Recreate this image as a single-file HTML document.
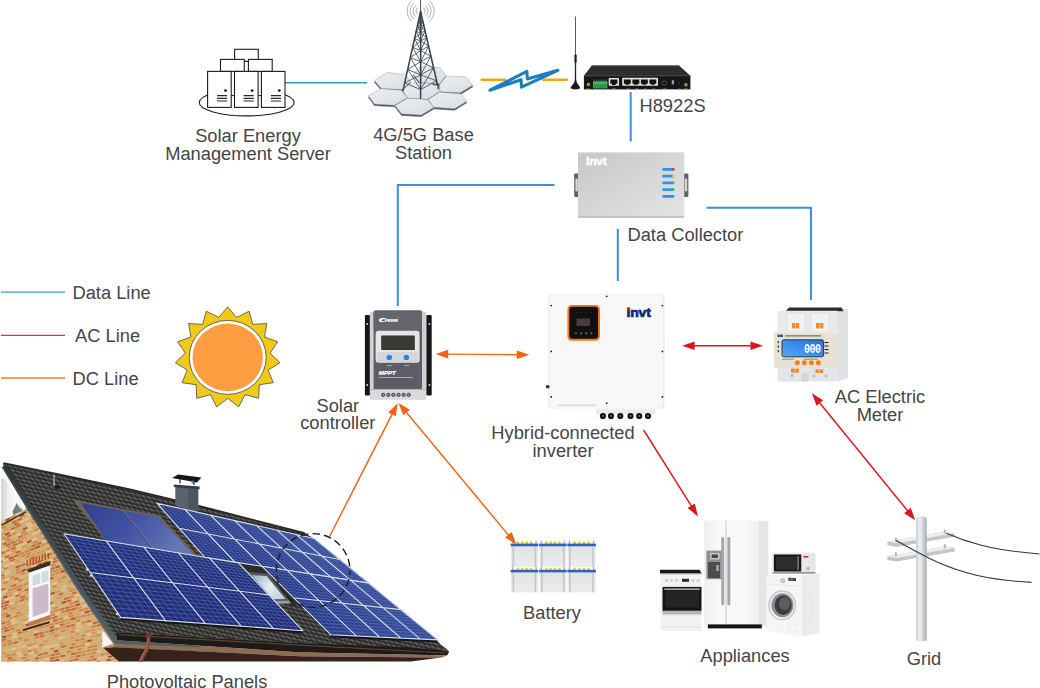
<!DOCTYPE html>
<html>
<head>
<meta charset="utf-8">
<title>Solar Energy Management</title>
<style>
html,body{margin:0;padding:0;background:#fff;}
body{width:1040px;height:688px;overflow:hidden;position:relative;font-family:"Liberation Sans",sans-serif;}
svg{position:absolute;left:0;top:0;display:block;}
text{font-family:"Liberation Sans",sans-serif;font-size:17.6px;fill:#454545;}
.c{text-anchor:middle;}
.dl{stroke:#3b8fdc;stroke-width:2;fill:none;}
.ac{stroke:#dc1c24;stroke-width:1.8;fill:none;}
.dc{stroke:#f47a1c;stroke-width:1.8;fill:none;}
</style>
</head>
<body>
<svg width="1040" height="688" viewBox="0 0 1040 688">
<defs>
  <linearGradient id="poleG" x1="0" x2="1" y1="0" y2="0">
    <stop offset="0" stop-color="#c9ced2"/><stop offset="0.35" stop-color="#eef1f3"/><stop offset="1" stop-color="#a9afb4"/>
  </linearGradient>
  <linearGradient id="dcG" x1="0" x2="1" y1="0" y2="1">
    <stop offset="0" stop-color="#c6c6c6"/><stop offset="0.5" stop-color="#d6d6d6"/><stop offset="1" stop-color="#e4e4e4"/>
  </linearGradient>
  <linearGradient id="invG" x1="0" x2="1" y1="0" y2="0">
    <stop offset="0" stop-color="#e9e9e9"/><stop offset="0.04" stop-color="#f6f6f6"/><stop offset="0.96" stop-color="#f6f6f6"/><stop offset="1" stop-color="#e6e6e6"/>
  </linearGradient>
  <linearGradient id="batG" x1="0" x2="0" y1="0" y2="1">
    <stop offset="0" stop-color="#e2e3e6"/><stop offset="1" stop-color="#ececee"/>
  </linearGradient>
  <linearGradient id="frG" x1="0" x2="1" y1="0" y2="0">
    <stop offset="0" stop-color="#ededee"/><stop offset="0.25" stop-color="#f8f8f8"/><stop offset="0.75" stop-color="#f8f8f8"/><stop offset="1" stop-color="#efeff0"/>
  </linearGradient>
<!--HDEFS_START-->
  <linearGradient id="bargeG" gradientUnits="userSpaceOnUse" x1="1" y1="0" x2="14" y2="0">
    <stop offset="0" stop-color="#cfcfcf"/><stop offset="0.5" stop-color="#ececec"/><stop offset="1" stop-color="#f8f8f8"/>
  </linearGradient>
  <linearGradient id="stripG" gradientUnits="userSpaceOnUse" x1="0" y1="465" x2="0" y2="645">
    <stop offset="0" stop-color="#2c3338"/><stop offset="0.35" stop-color="#3c464d"/><stop offset="1" stop-color="#54616a"/>
  </linearGradient>
  <linearGradient id="wallSh" x1="0" x2="1" y1="0" y2="0">
    <stop offset="0" stop-color="#8a5a30" stop-opacity="0.12"/><stop offset="0.5" stop-color="#fff" stop-opacity="0.04"/><stop offset="1" stop-color="#fff" stop-opacity="0.08"/>
  </linearGradient>
  <pattern id="tiles" width="5.7" height="5.3" patternUnits="userSpaceOnUse" patternTransform="matrix(0.975,0.222,0.53,0.85,0,2)">
    <rect width="5.7" height="5.3" fill="#292928"/>
    <ellipse cx="2.7" cy="2.4" rx="2.5" ry="2" fill="#4c4c4b"/>
    <ellipse cx="2.3" cy="1.9" rx="1.7" ry="1.1" fill="#5e5e5d"/>
  </pattern>
  <linearGradient id="thermG" gradientUnits="userSpaceOnUse" x1="90" y1="500" x2="170" y2="556">
    <stop offset="0" stop-color="#31418f"/><stop offset="0.5" stop-color="#4253a3"/><stop offset="1" stop-color="#6575b6"/>
  </linearGradient>
  <linearGradient id="skyG" gradientUnits="userSpaceOnUse" x1="255" y1="575" x2="282" y2="600">
    <stop offset="0" stop-color="#9fb6c6"/><stop offset="0.5" stop-color="#e4eef2"/><stop offset="1" stop-color="#b9cedb"/>
  </linearGradient>
  <linearGradient id="pvGA" gradientUnits="userSpaceOnUse" x1="64" y1="534" x2="300" y2="630">
    <stop offset="0" stop-color="#232f78"/><stop offset="1" stop-color="#212c72"/>
  </linearGradient>
  <linearGradient id="pvGB" gradientUnits="userSpaceOnUse" x1="155" y1="503" x2="437" y2="641">
    <stop offset="0" stop-color="#232f78"/><stop offset="0.6" stop-color="#283882"/><stop offset="1" stop-color="#30448e"/>
  </linearGradient>
<!--HDEFS_END-->
  <linearGradient id="hexG" x1="0" x2="1" y1="0" y2="1">
    <stop offset="0" stop-color="#eceef2"/><stop offset="1" stop-color="#d9dde3"/>
  </linearGradient>
  <linearGradient id="lcdG" x1="0" x2="1" y1="1" y2="0">
    <stop offset="0" stop-color="#58aaf8"/><stop offset="0.5" stop-color="#3a8cf0"/><stop offset="1" stop-color="#2372e2"/>
  </linearGradient>
</defs>

<!-- ================= CONNECTION LINES ================= -->
<g id="lines">
  <!-- data lines -->
  <line x1="285" y1="82.8" x2="367" y2="82.8" stroke="#2f9fc4" stroke-width="1.6"/>
  <line class="dl" x1="630.7" y1="92" x2="630.7" y2="141.5"/>
  <polyline class="dl" points="554.5,185 397.8,185 397.8,306"/>
  <polyline class="dl" points="706.5,207.8 811,207.8 811,300"/>
  <line class="dl" x1="617.8" y1="229" x2="617.8" y2="281"/>
  <!-- legend -->
  <line x1="1" y1="292.1" x2="65" y2="292.1" stroke="#36a0be" stroke-width="1.4"/>
  <line x1="1" y1="335.4" x2="65" y2="335.4" stroke="#e2343c" stroke-width="1.4"/>
  <line x1="1" y1="378" x2="65" y2="378" stroke="#ff9a4a" stroke-width="1.8"/>
</g>


<!-- ================= SERVER ICON ================= -->
<g id="server" fill="#fff" stroke="#1c1c1c" stroke-width="1.1">
  <ellipse cx="246.7" cy="102.6" rx="47.5" ry="13.3"/>
  <rect x="234.6" y="49.3" width="23.7" height="12"/>
  <rect x="220.5" y="59.4" width="23.8" height="12"/>
  <rect x="248.4" y="59.4" width="23.8" height="12"/>
  <rect x="229" y="75" width="35" height="20" stroke="none"/>
  <path d="M231 95.6h4M258 95.6h4" stroke-width="1"/>
  <rect x="207.6" y="71.4" width="23.6" height="36"/>
  <rect x="234.5" y="71.4" width="23.6" height="36"/>
  <rect x="261.4" y="71.4" width="23.6" height="36"/>
  <g stroke="none" fill="#1c1c1c">
    <circle cx="225.5" cy="90.6" r="1.4"/><circle cx="252.1" cy="90.6" r="1.4"/><circle cx="279.3" cy="90.6" r="1.4"/>
  </g>
  <g stroke="#2a2a2a" stroke-width="1.2">
    <path d="M217 95.6h10.2M217 98.3h10.2M217 101h10.2"/>
    <path d="M243.6 95.6h10.2M243.6 98.3h10.2M243.6 101h10.2"/>
    <path d="M270.8 95.6h10.2M270.8 98.3h10.2M270.8 101h10.2"/>
  </g>
</g>

<!-- ================= BASE STATION ================= -->
<g id="tower">
  <polygon points="413,75.8 420,68.1 440.2,69.3 446,77.39999999999999 439.6,85.39999999999999 420,84.1" fill="#50575f" stroke="#50575f" stroke-width="0.5"/>
  <polygon points="413,74.2 420,66.5 440.2,67.7 446,75.8 439.6,83.8 420,82.5" fill="url(#hexG)" stroke="#9aa0a8" stroke-width="0.45"/>
  <polygon points="374.4,82.19999999999999 387.1,74.1 405.6,76.0 410.8,83.1 402.1,91.19999999999999 381.3,90.1" fill="#50575f" stroke="#50575f" stroke-width="0.5"/>
  <polygon points="374.4,80.6 387.1,72.5 405.6,74.4 410.8,81.5 402.1,89.6 381.3,88.5" fill="url(#hexG)" stroke="#9aa0a8" stroke-width="0.45"/>
  <polygon points="439.6,86.0 446.5,77.6 466.2,78.5 472.8,86.8 460.4,94.39999999999999 440.2,93.3" fill="#50575f" stroke="#50575f" stroke-width="0.5"/>
  <polygon points="439.6,84.4 446.5,76 466.2,76.9 472.8,85.2 460.4,92.8 440.2,91.7" fill="url(#hexG)" stroke="#9aa0a8" stroke-width="0.45"/>
  <polygon points="402.7,91.8 410.8,84.3 431.5,84.89999999999999 439.6,93.3 427.5,100.8 407.3,99.5" fill="#50575f" stroke="#50575f" stroke-width="0.5"/>
  <polygon points="402.7,90.2 410.8,82.7 431.5,83.3 439.6,91.7 427.5,99.2 407.3,97.9" fill="url(#hexG)" stroke="#9aa0a8" stroke-width="0.45"/>
  <polygon points="368.3,97.19999999999999 381.3,90.3 401.5,91.8 407.3,99.3 394.6,106.8 374.4,105.6" fill="#50575f" stroke="#50575f" stroke-width="0.5"/>
  <polygon points="368.3,95.6 381.3,88.7 401.5,90.2 407.3,97.7 394.6,105.2 374.4,104" fill="url(#hexG)" stroke="#9aa0a8" stroke-width="0.45"/>
  <polygon points="428.1,101.0 439.6,93.8 460.4,95.3 466.7,102.8 454.6,110.3 433.8,108.8" fill="#50575f" stroke="#50575f" stroke-width="0.5"/>
  <polygon points="428.1,99.4 439.6,92.2 460.4,93.7 466.7,101.2 454.6,108.7 433.8,107.2" fill="url(#hexG)" stroke="#9aa0a8" stroke-width="0.45"/>
  <polygon points="395.2,107.1 407.3,99.89999999999999 427.5,101.0 433.8,109.1 421.2,116.6 401.5,115.39999999999999" fill="#50575f" stroke="#50575f" stroke-width="0.5"/>
  <polygon points="395.2,105.5 407.3,98.3 427.5,99.4 433.8,107.5 421.2,115 401.5,113.8" fill="url(#hexG)" stroke="#9aa0a8" stroke-width="0.45"/>
  <g stroke="#38424a" stroke-width="1.15" fill="none" stroke-linecap="round" stroke-linejoin="round">
    <path d="M420.6 0V11.5" stroke-width="0.9"/>
    <path d="M420.6 11.5L402.9 90.8" stroke-width="1.5"/>
    <path d="M420.6 11.5L438.4 88.5" stroke-width="1.5"/>
    <path d="M420.6 11.5L420.6 98.3" stroke-width="1.5"/>
    <path d="M420.6 11.5L420.8 83" stroke-width="0.8"/>
    <path d="M418.8 19.4L420.6 20.2L422.4 19.2M417.6 25.0L420.6 26.3L423.6 24.6M418.8 19.4L420.6 26.3M420.6 20.2L417.6 25.0M422.4 19.2L420.6 26.3M420.6 20.2L423.6 24.6M416.2 31.3L420.6 33.2L425.1 30.8M417.6 25.0L420.6 33.2M420.6 26.3L416.2 31.3M423.6 24.6L420.6 33.2M420.6 26.3L425.1 30.8M414.6 38.5L420.6 41.0L426.7 37.7M416.2 31.3L420.6 41.0M420.6 33.2L414.6 38.5M425.1 30.8L420.6 41.0M420.6 33.2L426.7 37.7M412.6 47.2L420.6 50.6L428.6 46.1M414.6 38.5L420.6 50.6M420.6 41.0L412.6 47.2M426.7 37.7L420.6 50.6M420.6 41.0L428.6 46.1M410.3 57.5L420.6 61.8L430.9 56.2M412.6 47.2L420.6 61.8M420.6 50.6L410.3 57.5M428.6 46.1L420.6 61.8M420.6 50.6L430.9 56.2M407.7 69.4L420.6 74.9L433.6 67.7M410.3 57.5L420.6 74.9M420.6 61.8L407.7 69.4M430.9 56.2L420.6 74.9M420.6 61.8L433.6 67.7M404.7 82.9L420.6 89.6L436.6 80.8M407.7 69.4L420.6 89.6M420.6 74.9L404.7 82.9M433.6 67.7L420.6 89.6M420.6 74.9L436.6 80.8" stroke-width="0.8"/>
  </g>
  <g stroke="#8c9094" stroke-width="0.7" fill="none">
    <path d="M417.7 7.6A4.5 4.5 0 0 0 417.7 14.4M423.5 7.6A4.5 4.5 0 0 1 423.5 14.4"/>
    <path d="M415.8 5.3A7.5 7.5 0 0 0 415.8 16.7M425.4 5.3A7.5 7.5 0 0 1 425.4 16.7"/>
    <path d="M413.9 3.0A10.5 10.5 0 0 0 413.9 19.0M427.3 3.0A10.5 10.5 0 0 1 427.3 19.0"/>
    <path d="M411.9 0.7A13.5 13.5 0 0 0 411.9 21.3M429.3 0.7A13.5 13.5 0 0 1 429.3 21.3"/>
  </g>
</g>
<!-- ================= WIRELESS LINK ================= -->
<g id="link">
  <path d="M481.8 79.8H505M543.3 79.8H566.8" stroke="#f6a313" stroke-width="2.6" stroke-linecap="round"/>
  <polygon points="490,90.2 526.9,71.4 527.3,78.9 557.8,70.3 521.5,87.2 521.1,79.7" fill="#fff" stroke="#1b7fbd" stroke-width="3.1" stroke-linejoin="round"/>
</g>

<!-- ================= ROUTER H8922S ================= -->
<g id="router">
  <!-- antenna -->
  <path d="M575.5 16.5V56" stroke="#333" stroke-width="0.8"/>
  <rect x="574.4" y="54.5" width="2.3" height="8.5" rx="1" fill="#222"/>
  <path d="M575.5 62V83" stroke="#222" stroke-width="1.3"/>
  <path d="M575.5 77.5 L574.2 82.5 L570.6 87.6 Q570.2 89.3 575.4 89.4 Q580.6 89.3 580.2 87.6 L576.8 82.5 Z" fill="#1a1a1a"/>
  <!-- body -->
  <polygon points="591.8,65.5 679,65.5 690.4,75.8 583.9,75.8" fill="#2e2e2e"/>
  <polygon points="591.8,65.5 679,65.5 680,66.4 590.8,66.4" fill="#4a4a4a"/>
  <rect x="583.9" y="75.6" width="106.5" height="13.8" fill="#161616"/>
  <rect x="583.9" y="75.6" width="106.5" height="0.8" fill="#3c3c3c"/>
  <!-- SMA -->
  <circle cx="588.4" cy="84.4" r="1.7" fill="#c9a24a"/><circle cx="588.4" cy="84.4" r="0.7" fill="#6a5320"/>
  <circle cx="685.9" cy="84.7" r="1.7" fill="#c9a24a"/><circle cx="685.9" cy="84.7" r="0.7" fill="#6a5320"/>
  <!-- green terminal -->
  <path d="M594 80.2h13" stroke="#9a9a9a" stroke-width="0.8" stroke-dasharray="1 0.9"/>
  <rect x="593" y="81.6" width="14.4" height="6.8" fill="#2fa94b"/>
  <rect x="593" y="81.6" width="14.4" height="1.6" fill="#4fc46a"/>
  <path d="M595.4 85v3.2M597.8 85v3.2M600.2 85v3.2M602.6 85v3.2M605 85v3.2" stroke="#1d7a33" stroke-width="0.9"/>
  <!-- single port -->
  <rect x="608.7" y="78" width="10.3" height="7.8" rx="0.8" fill="#e2e2dc"/>
  <path d="M610.3 79.6h7.1v4.2h-1.7v1.1h-3.7v-1.1h-1.7z" fill="#111"/>
  <!-- 4 ports -->
  <rect x="622.2" y="77.7" width="35.8" height="8.1" rx="0.8" fill="#e2e2dc"/>
  <g fill="#111">
    <path d="M623.9 79.4h6.9v4.3h-1.6v1.1h-3.7v-1.1h-1.6z"/>
    <path d="M632.4 79.4h6.9v4.3h-1.6v1.1h-3.7v-1.1h-1.6z"/>
    <path d="M640.9 79.4h6.9v4.3h-1.6v1.1h-3.7v-1.1h-1.6z"/>
    <path d="M649.4 79.4h6.9v4.3h-1.6v1.1h-3.7v-1.1h-1.6z"/>
  </g>
  <!-- power jack & misc -->
  <circle cx="664.4" cy="83" r="2.7" fill="#3a3a3a"/><circle cx="664.4" cy="83" r="1.3" fill="#0c0c0c"/>
  <rect x="671.8" y="80" width="2.2" height="4.6" rx="0.8" fill="#9c9c9c"/>
  <circle cx="679.5" cy="83" r="0.5" fill="#666"/>
  <path d="M586.8 88.6h3M612 88.6h3.5M627 88.6h2.5M635.5 88.6h2.5M644 88.6h2.5M652.5 88.6h2.5M663 88.6h3M678.5 88.6h2M684.5 88.6h3" stroke="#8a8a8a" stroke-width="0.6"/>
</g>

<!-- ================= SUN ================= -->
<g id="sun" transform="translate(227.7,357.4) scale(1.005,0.965)">
  <polygon points="0.0,-52.4 8.8,-41.4 21.3,-47.9 24.9,-34.2 38.9,-35.1 36.6,-21.1 49.8,-16.2 42.1,-4.4 52.1,5.5 40.2,13.1 45.4,26.2 31.4,28.3 30.8,42.4 17.2,38.6 10.9,51.3 0.0,42.3 -10.9,51.3 -17.2,38.6 -30.8,42.4 -31.4,28.3 -45.4,26.2 -40.2,13.1 -52.1,5.5 -42.1,-4.4 -49.8,-16.2 -36.6,-21.2 -38.9,-35.1 -24.9,-34.2 -21.3,-47.9 -8.8,-41.4" fill="#f1c917" stroke="#5a5a50" stroke-width="0.9" stroke-linejoin="miter"/>
  <circle cx="0" cy="0" r="38.3" fill="#fff" stroke="#55554c" stroke-width="0.9"/>
  <circle cx="0" cy="0" r="35" fill="#ff9d42"/>
</g>

<!-- ================= DATA COLLECTOR ================= -->
<g id="collector">
  <rect x="574.2" y="173.4" width="4.6" height="23.6" rx="1.2" fill="#5c6464"/>
  <rect x="683.6" y="173.4" width="4.8" height="23.6" rx="1.2" fill="#5c6464"/>
  <rect x="575.4" y="178.5" width="2.4" height="13" rx="1.2" fill="#d8d8d8"/>
  <rect x="684.8" y="178.5" width="2.4" height="13" rx="1.2" fill="#d8d8d8"/>
  <rect x="578" y="151.9" width="106.3" height="65.9" rx="1.6" fill="url(#dcG)"/>
  <rect x="578" y="151.9" width="106.3" height="1.2" fill="#e6e6e6" opacity="0.8"/>
  <rect x="578" y="216.2" width="106.3" height="1.6" fill="#b4b4b4" opacity="0.8"/>
  <text transform="translate(586,165.2) scale(1.05,1)" style="font-size:11.5px;font-weight:bold;fill:#fff;stroke:#fff;stroke-width:0.5px;letter-spacing:-0.2px">invt</text>
  <g>
    <rect x="662.3" y="167.9" width="12" height="2.8" rx="1.2" fill="#2c93f2"/><rect x="672.3" y="168.2" width="2" height="2.2" fill="#f02a2a"/>
    <rect x="662.3" y="174.8" width="12" height="2.8" rx="1.2" fill="#2c93f2"/><rect x="672.3" y="175.1" width="2" height="2.2" fill="#f2e020"/>
    <rect x="662.3" y="181.5" width="12" height="2.8" rx="1.2" fill="#2c93f2"/><rect x="672.3" y="181.8" width="2" height="2.2" fill="#30c838"/>
    <rect x="662.3" y="188.2" width="12" height="2.8" rx="1.2" fill="#2c93f2"/><rect x="672.3" y="188.5" width="2" height="2.2" fill="#30c838"/>
    <rect x="662.3" y="194.9" width="12" height="2.8" rx="1.2" fill="#2c93f2"/>
  </g>
</g>

<!-- ================= SOLAR CONTROLLER ================= -->
<g id="controller">
  <rect x="364.9" y="315" width="5.4" height="80.4" rx="1.2" fill="#161616"/>
  <rect x="426.3" y="315" width="5.4" height="80.4" rx="1.2" fill="#161616"/>
  <circle cx="367.2" cy="324" r="0.9" fill="#ddd"/><circle cx="367.2" cy="385" r="0.9" fill="#ddd"/>
  <circle cx="429.4" cy="324" r="0.9" fill="#ddd"/><circle cx="429.4" cy="385" r="0.9" fill="#ddd"/>
  <rect x="369.8" y="311.5" width="56.4" height="88" rx="1.5" fill="#cfd0d2"/>
  <rect x="373.6" y="310.4" width="48.4" height="79" rx="2" fill="#5d5d66"/>
  <rect x="373.6" y="310.4" width="48.4" height="20" rx="2" fill="#64646c"/>
  <ellipse cx="382.6" cy="320" rx="3.9" ry="2.1" fill="#f4f4f4" transform="rotate(-8 382.6 320)"/>
  <ellipse cx="383.8" cy="320.2" rx="2.5" ry="0.9" fill="#62626a" transform="rotate(-8 383.8 320.2)"/>
  <text transform="translate(385.6,321.5) scale(0.9,1)" style="font-size:4px;font-weight:bold;font-style:italic;fill:#fff;stroke:#fff;stroke-width:0.2px">PEVER</text>
  <rect x="397.6" y="317" width="0.8" height="0.8" fill="#ddd"/>
  <rect x="375.6" y="330.7" width="44" height="32" rx="3" fill="#e4e6ea"/>
  <rect x="376.6" y="352" width="42" height="10" rx="3" fill="#d2d5da"/>
  <rect x="381.2" y="335.4" width="33.6" height="14.6" rx="0.8" fill="#2e302c"/>
  <rect x="382" y="336.2" width="32" height="13" fill="#383a34"/>
  <circle cx="389.3" cy="357.4" r="2.7" fill="#1f86ea"/>
  <circle cx="406.4" cy="357.4" r="2.7" fill="#1f86ea"/>
  <path d="M387 365.6h5M404 365.6h5" stroke="#c8c8cc" stroke-width="0.7"/>
  <text transform="translate(378.8,375.4) scale(1.1,1)" style="font-size:5.6px;font-weight:bold;font-style:italic;fill:#fff;stroke:#fff;stroke-width:0.2px">MPPT</text>
  <path d="M378.8 377.5h34" stroke="#c0c0c6" stroke-width="0.8"/>
  <rect x="370.3" y="389" width="55.4" height="10.5" fill="#d9dadc"/>
  <rect x="370.3" y="389" width="55.4" height="1.2" fill="#b8b9bc"/>
  <g fill="#8c8c8c" stroke="#444" stroke-width="1">
    <circle cx="383.2" cy="394.8" r="1.65"/><circle cx="388.3" cy="394.8" r="1.65"/><circle cx="393.4" cy="394.8" r="1.65"/><circle cx="398.5" cy="394.8" r="1.65"/><circle cx="403.6" cy="394.8" r="1.65"/><circle cx="408.7" cy="394.8" r="1.65"/>
  </g>
</g>

<!--HOUSE_START-->
<!-- ================= HOUSE / PV ROOF ================= -->
<g id="house">
  <clipPath id="wallClip"><polygon points="1.3,521.0 25.0,509.5 27.1,502.6 59.0,553.5 81.6,590.0 117.6,643.4 119.0,661.5 1.3,661.5"/></clipPath>
  <polygon points="1.3,521.0 25.0,509.5 27.1,502.6 59.0,553.5 81.6,590.0 117.6,643.4 119.0,661.5 1.3,661.5" fill="#d3b283"/>
  <g clip-path="url(#wallClip)" stroke-width="1.95" fill="none">
    <path d="M0.5 497.7L2.7 496.6M8.9 493.3L13.2 491.0M61.9 465.2L66.4 462.8M99.0 445.5L103.5 443.1M6.1 497.6L10.7 495.2M27.3 486.4L31.7 484.2M75.0 461.4L79.4 459.1M90.9 453.1L95.4 450.7M0.5 503.3L4.0 501.5M5.0 501.0L9.3 498.8M10.3 498.3L14.6 496.0M15.6 495.5L20.3 493.0M20.9 492.8L25.6 490.3M31.5 487.3L36.1 484.9M42.1 481.7L46.6 479.4M52.7 476.2L57.1 473.9M63.3 470.7L67.8 468.4M111.0 446.0L115.5 443.6M37.4 487.2L41.9 484.9M48.0 481.7L52.5 479.4M53.3 479.0L57.9 476.6M74.5 468.1L78.9 465.9M85.1 462.7L89.7 460.3M106.3 451.8L110.9 449.4M19.0 499.5L23.6 497.2M34.9 491.5L39.2 489.3M45.5 486.1L49.8 483.9M82.6 467.2L87.3 464.8M109.1 453.7L113.6 451.4M114.4 451.0L119.2 448.6M3.5 510.2L8.0 508.0M56.5 483.5L61.1 481.2M67.1 478.2L71.7 475.9M72.4 475.5L77.1 473.2M98.9 462.2L103.4 460.0M36.9 496.4L41.7 494.0M63.4 483.2L67.9 481.0M100.5 464.7L104.8 462.6M19.7 507.9L24.4 505.6M62.1 487.0L66.9 484.7M93.9 471.3L98.6 469.0M99.2 468.7L103.8 466.5M4.1 518.4L8.7 516.2M83.6 479.6L88.3 477.4M88.9 477.0L93.7 474.7M110.1 466.7L114.6 464.6M10.9 517.9L15.5 515.7M53.3 497.5L57.8 495.3M69.2 489.8L74.0 487.5M101.0 474.5L105.5 472.3M116.9 466.8L121.6 464.6M3.9 524.2L8.4 522.0M30.4 511.5L34.8 509.4M51.6 501.4L55.9 499.3M56.9 498.9L61.6 496.7M62.2 496.4L66.8 494.2M72.8 491.3L77.4 489.1M115.2 471.1L119.9 468.8M1.4 528.1L5.9 526.0M91.5 485.6L96.1 483.5M96.8 483.2L101.3 481.1M35.4 515.1L39.8 513.0M61.9 502.8L66.6 500.5M72.5 497.8L76.9 495.7M104.3 483.0L108.7 481.0M109.6 480.5L114.4 478.3M120.2 475.6L125.0 473.4M37.5 517.1L42.1 515.0M53.4 509.8L58.2 507.6M58.7 507.3L63.5 505.2M90.5 492.7L95.2 490.5M106.4 485.4L111.1 483.2M31.6 522.8L36.4 520.6M52.8 513.1L57.4 511.1M63.4 508.3L68.0 506.3M84.6 498.7L89.1 496.6M95.2 493.8L99.7 491.8M100.5 491.4L105.3 489.2M105.8 489.0L110.4 486.9M111.1 486.6L115.9 484.4M1.7 539.2L6.1 537.3M86.5 501.1L91.2 499.0M97.1 496.3L101.9 494.2M102.4 493.9L107.2 491.8M5.7 540.3L10.1 538.3M21.6 533.2L26.1 531.2M37.5 526.1L41.9 524.2M53.4 519.1L58.0 517.0M79.9 507.3L84.3 505.3M111.7 493.2L116.2 491.1M7.7 542.2L12.2 540.2M23.6 535.2L28.3 533.2M34.2 530.6L38.7 528.6M55.4 521.3L59.8 519.3M66.0 516.6L70.4 514.7M97.8 502.6L102.5 500.6M0.5 548.2L-0.1 548.5M16.3 541.3L20.6 539.4M53.4 525.2L58.1 523.2M69.3 518.3L73.9 516.3M74.6 516.0L79.0 514.1M79.9 513.7L84.5 511.7M85.2 511.4L89.8 509.4M117.0 497.6L121.4 495.7M7.8 547.9L12.4 545.9M39.6 534.2L44.3 532.2M71.4 520.6L75.8 518.7M92.6 511.5L97.1 509.6M5.9 551.5L10.4 549.6M90.7 515.6L95.0 513.8M101.3 511.1L105.7 509.3M32.9 543.1L37.3 541.2M48.8 536.4L53.5 534.4M111.0 513.8L115.6 511.9M121.6 509.4L126.0 507.6M0.5 562.2L-2.8 563.5M19.3 554.5L23.9 552.7M24.6 552.4L29.3 550.5M40.5 545.9L44.9 544.1M45.8 543.7L50.5 541.8M51.1 541.6L55.7 539.7M77.6 530.8L82.2 528.9M93.5 524.3L98.1 522.5M20.9 556.8L25.3 555.0M26.2 554.7L30.8 552.8M79.2 533.4L84.0 531.5M100.4 524.8L104.8 523.1M105.7 522.7L110.2 520.9M111.0 520.6L115.6 518.8M121.6 516.3L126.4 514.4M25.5 557.9L30.3 556.0M46.7 549.5L51.4 547.6M62.6 543.2L67.4 541.3M67.9 541.1L72.6 539.2M99.7 528.5L104.3 526.7M3.8 569.3L8.3 567.6M40.9 554.8L45.7 552.9M62.1 546.5L66.9 544.6M0.5 573.4L-1.1 574.0M42.1 557.4L46.7 555.6M52.7 553.3L57.5 551.4M89.8 539.0L94.3 537.2M111.0 530.8L115.7 529.0M15.6 570.5L20.1 568.8M68.6 550.3L73.1 548.6M79.2 546.3L83.9 544.5M95.1 540.2L99.7 538.5M0.5 579.0L4.7 577.4M16.3 573.1L21.0 571.3M26.9 569.1L31.3 567.5M74.6 551.2L79.1 549.5M10.2 578.2L14.9 576.5M20.8 574.3L25.1 572.7M31.4 570.4L35.8 568.8M36.7 568.4L41.2 566.8M57.9 560.6L62.6 558.9M63.2 558.6L67.9 556.9M89.7 548.8L94.3 547.2M100.3 544.9L104.9 543.2M3.5 583.5L8.1 581.9M30.0 573.9L34.6 572.2M51.2 566.2L55.5 564.6M77.7 556.5L82.2 554.8M114.8 543.0L119.3 541.3M18.3 581.0L22.8 579.4M71.3 562.0L76.0 560.3M0.5 590.2L-0.2 590.5M48.3 573.3L52.8 571.7M53.6 571.4L58.2 569.8M58.9 569.6L63.6 567.9M85.4 560.2L89.9 558.6M90.7 558.3L95.1 556.8M96.0 556.4L100.7 554.8M111.9 550.8L116.7 549.1M7.9 590.4L12.7 588.8M13.2 588.6L17.9 587.0M18.5 586.7L23.0 585.2M23.8 584.9L28.6 583.2M50.3 575.7L54.8 574.1M55.6 573.8L60.2 572.2M71.5 568.3L76.2 566.6M76.8 566.4L81.5 564.8M82.1 564.6L86.8 563.0M32.8 584.7L37.3 583.2M43.4 581.1L47.9 579.6M64.6 573.8L69.3 572.2M75.2 570.2L79.7 568.7M29.7 588.8L34.1 587.3M45.6 583.4L50.0 581.9M61.5 578.0L66.1 576.5M98.6 565.5L103.2 563.9M0.5 601.4L4.3 600.2M116.2 563.0L120.5 561.5M52.3 587.3L56.7 585.9M68.2 582.1L73.0 580.5M100.0 571.7L104.3 570.3M25.2 599.1L29.8 597.6M35.8 595.7L40.2 594.3M88.8 578.6L93.3 577.2M99.4 575.2L104.2 573.7M110.0 571.8L114.6 570.3M98.2 579.0L102.7 577.5M108.8 575.6L113.2 574.2M119.4 572.3L123.9 570.8M11.0 609.4L15.7 607.9M69.3 591.3L74.0 589.8M85.2 586.3L89.5 585.0M90.5 584.7L95.0 583.3M106.4 579.7L110.9 578.3M117.0 576.4L121.7 575.0M0.5 615.4L2.7 614.8M3.4 614.6L8.0 613.2M0.5 618.2L-0.3 618.5M16.4 613.5L20.7 612.2M32.3 608.7L36.9 607.3M42.9 605.5L47.3 604.2M69.4 597.6L73.8 596.2M85.3 592.8L89.7 591.5M95.9 589.6L100.4 588.3M0.5 621.1L2.7 620.4M13.8 617.1L18.5 615.7M88.0 595.3L92.7 593.9M5.6 622.4L10.1 621.1M53.3 608.6L57.7 607.3M69.2 604.0L73.6 602.7M85.1 599.4L89.9 598.0M106.3 593.2L111.0 591.9M116.9 590.2L121.3 588.9M6.6 624.9L11.1 623.6M38.4 615.9L43.2 614.5M43.7 614.4L48.1 613.1M49.0 612.9L53.6 611.6M54.3 611.4L58.9 610.1M70.2 606.8L74.5 605.6M7.9 627.4L12.6 626.1M50.3 615.6L55.1 614.2M60.9 612.6L65.6 611.3M113.9 597.8L118.7 596.5M0.5 632.3L3.7 631.4M9.9 629.7L14.5 628.4M47.0 619.5L51.5 618.3M68.2 613.7L72.6 612.5M78.8 610.8L83.5 609.6M84.1 609.4L88.8 608.1M0.5 635.1L-0.5 635.3M15.9 630.9L20.5 629.7M37.1 625.2L41.6 624.0M58.3 619.6L63.0 618.3M68.9 616.7L73.3 615.5M100.7 608.2L105.3 607.0M7.1 636.1L11.8 634.9M38.9 627.8L43.4 626.6M44.2 626.4L48.6 625.2M49.5 625.0L53.8 623.8M54.8 623.6L59.5 622.4M60.1 622.2L64.9 620.9M81.3 616.6L85.7 615.5M86.6 615.2L91.0 614.1M76.0 621.2L80.4 620.1M107.8 613.0L112.2 611.9M113.1 611.7L117.7 610.5M7.2 641.8L11.6 640.7M17.8 639.1L22.2 638.0M44.3 632.4L48.7 631.3M54.9 629.8L59.4 628.6M81.4 623.1L85.9 621.9M102.6 617.7L106.9 616.6M113.2 615.1L117.6 614.0M2.6 645.8L6.9 644.7M7.9 644.5L12.6 643.3M23.8 640.5L28.4 639.4M34.4 637.9L39.0 636.8M60.9 631.4L65.5 630.2M0.5 649.1L0.4 649.1M54.2 636.1L58.8 635.0M70.1 632.3L74.6 631.2M91.3 627.2L96.0 626.0M27.2 645.6L31.7 644.5M101.4 628.1L105.7 627.0M106.7 626.8L111.4 625.7M112.0 625.6L116.4 624.5M117.3 624.3L121.6 623.3M38.8 645.9L43.2 644.8M81.2 636.1L85.6 635.0M6.1 656.2L10.5 655.2M11.4 655.0L16.2 654.0M27.3 651.4L31.7 650.4M75.0 640.7L79.3 639.7M80.3 639.5L84.8 638.5M96.2 635.9L100.6 634.9M23.7 655.2L28.1 654.2M34.3 652.9L38.8 651.9M50.2 649.4L54.5 648.4M71.4 644.7L75.8 643.7M6.1 661.9L10.7 660.9M11.4 660.8L16.1 659.8M22.0 658.5L26.7 657.5M75.0 647.1L79.6 646.1M80.3 646.0L84.6 645.0M3.0 665.4L7.6 664.4M24.2 660.9L28.8 660.0M56.0 654.3L60.7 653.3M66.6 652.1L71.3 651.1M77.2 649.8L81.6 648.9M87.8 647.6L92.4 646.6M93.1 646.5L97.5 645.6M103.7 644.3L108.4 643.3M12.8 666.2L17.5 665.2M23.4 664.0L28.0 663.1M28.7 662.9L33.3 662.0M34.0 661.9L38.4 661.0M55.2 657.5L59.5 656.7M76.4 653.2L81.2 652.2M87.0 651.0L91.7 650.1M92.3 650.0L97.1 649.0M108.2 646.7L112.9 645.8M28.3 666.0L33.0 665.0M81.3 655.4L85.9 654.5M91.9 653.3L96.4 652.4M118.4 648.1L122.9 647.2M31.6 668.3L36.1 667.4M36.9 667.3L41.4 666.4M63.4 662.1L67.8 661.3M89.9 657.0L94.4 656.2M100.5 655.0L105.0 654.1M105.8 653.9L110.5 653.0M0.5 677.1L1.1 677.0M17.8 673.9L22.5 673.0M39.0 669.9L43.4 669.0M60.2 665.9L64.8 665.0M65.5 664.9L70.1 664.0M86.7 660.9L91.3 660.0M118.5 654.9L123.1 654.1M0.5 679.9L0.0 680.0M27.1 675.1L31.8 674.2M32.4 674.1L36.9 673.3M37.7 673.1L42.2 672.3M80.1 665.4L84.6 664.6M117.2 658.6L121.5 657.8M4.9 681.9L9.6 681.1M15.5 680.1L20.0 679.3M20.8 679.1L25.6 678.3M42.0 675.4L46.6 674.5M57.9 672.5L62.7 671.7M89.7 666.9L94.1 666.1M116.2 662.2L120.7 661.4M30.7 680.3L35.1 679.6M62.5 674.9L67.2 674.0M83.7 671.2L88.4 670.4M89.0 670.3L93.7 669.5M104.9 667.6L109.2 666.8M14.1 686.0L18.6 685.3M30.0 683.4L34.5 682.6M51.2 679.9L55.9 679.1M77.7 675.5L82.3 674.7M104.2 671.0L109.0 670.2M26.4 686.9L30.9 686.2M58.2 681.8L62.9 681.1M90.0 676.7L94.3 676.0M95.3 675.8L99.9 675.1M100.6 675.0L105.0 674.3M25.8 690.0L30.3 689.3M62.9 684.2L67.6 683.5M94.7 679.2L99.2 678.5M11.9 695.0L16.6 694.3M22.5 693.4L27.2 692.7M43.7 690.2L48.4 689.5M49.0 689.4L53.4 688.8M96.7 682.2L101.5 681.5M21.0 696.5L25.7 695.9M52.8 691.9L57.4 691.3M63.4 690.4L68.2 689.7M74.0 688.9L78.4 688.2M79.3 688.1L84.1 687.4M105.8 684.2L110.3 683.6M121.7 681.9L126.2 681.3" stroke="#cf8546"/>
    <path d="M14.2 490.5L18.5 488.2M51.3 470.8L55.7 468.4M56.6 468.0L60.9 465.7M32.6 483.7L37.3 481.2M37.9 480.9L42.6 478.4M69.7 464.2L74.5 461.7M80.3 458.6L84.9 456.2M73.9 465.2L78.6 462.8M116.3 443.2L121.0 440.8M0.5 506.1L5.1 503.8M32.1 489.9L36.8 487.5M90.4 459.9L94.9 457.6M101.0 454.5L105.4 452.2M77.3 469.9L81.7 467.6M24.7 499.5L29.1 497.4M30.0 496.9L34.8 494.5M35.3 494.2L39.8 492.0M45.9 488.9L50.7 486.5M61.8 480.9L66.3 478.6M77.7 472.9L82.3 470.5M109.5 456.9L114.2 454.5M114.8 454.2L119.3 451.9M120.1 451.5L124.6 449.3M0.5 514.6L4.1 512.8M21.0 504.3L25.8 502.0M42.2 493.8L46.5 491.6M111.1 459.5L115.4 457.3M30.3 502.7L34.9 500.4M51.5 492.2L56.1 490.0M72.7 481.8L77.2 479.5M78.0 479.2L82.4 477.0M30.6 505.5L35.1 503.3M74.5 487.3L79.1 485.1M79.8 484.7L84.3 482.6M85.1 482.2L89.6 480.0M95.7 477.0L100.2 474.9M94.0 481.2L98.4 479.1M99.3 478.7L103.8 476.5M12.0 523.1L16.4 521.1M17.3 520.6L21.8 518.5M43.8 508.1L48.2 506.1M70.3 495.6L75.1 493.4M112.7 475.7L117.1 473.6M118.0 473.2L122.5 471.0M14.2 525.0L18.5 523.0M46.0 510.2L50.8 507.9M56.6 505.2L61.4 503.0M11.0 529.3L15.5 527.3M16.3 526.9L21.0 524.7M32.2 519.5L36.6 517.6M48.1 512.2L52.5 510.2M95.8 490.3L100.3 488.2M117.0 480.5L121.4 478.5M89.9 496.3L94.3 494.3M7.0 536.9L11.4 534.9M74.6 509.6L79.0 507.7M101.1 497.9L105.7 495.8M2.4 544.5L6.8 542.6M18.3 537.6L22.7 535.6M50.1 523.6L54.9 521.5M60.7 518.9L65.3 516.9M71.3 514.3L75.6 512.4M108.4 498.0L112.7 496.1M113.7 495.7L118.1 493.7M5.7 545.9L10.3 543.9M11.0 543.6L15.4 541.7M13.1 545.6L17.4 543.7M18.4 543.3L22.8 541.4M66.1 522.9L70.5 521.0M0.6 553.8L4.9 551.9M11.2 549.3L15.7 547.4M53.6 531.3L58.3 529.3M64.2 526.8L68.6 525.0M74.8 522.4L79.2 520.5M43.5 538.6L48.1 536.7M70.0 527.6L74.7 525.6M75.3 525.3L79.9 523.4M5.0 557.5L9.6 555.6M15.6 553.2L20.3 551.2M31.5 546.6L35.8 544.8M36.8 544.4L41.3 542.6M14.0 556.7L18.7 554.8M29.9 550.2L34.5 548.4M10.3 561.1L15.1 559.1M63.3 539.8L67.9 537.9M73.9 535.5L78.6 533.6M30.3 558.9L34.8 557.2M72.7 542.4L77.1 540.6M83.3 538.2L87.8 536.4M109.8 527.8L114.3 526.1M115.1 525.8L119.5 524.1M20.9 565.6L25.5 563.8M47.4 555.3L51.8 553.6M100.4 534.9L104.8 533.2M0.5 576.2L4.1 574.8M31.5 564.4L36.3 562.6M36.8 562.4L41.5 560.6M63.3 552.3L68.1 550.5M73.9 548.3L78.4 546.6M0.5 579.0L-0.5 579.4M42.8 563.2L47.4 561.4M53.4 559.2L58.0 557.4M52.6 562.5L57.2 560.8M79.1 552.7L83.9 551.0M110.9 541.0L115.6 539.3M14.1 579.7L18.5 578.1M50.1 569.6L54.7 567.9M0.6 590.2L5.2 588.6M11.2 586.4L16.0 584.7M69.5 565.8L74.1 564.2M117.2 548.9L121.8 547.3M29.1 583.1L33.7 581.5M45.0 577.5L49.6 575.9M108.6 555.4L113.1 553.8M16.9 590.2L21.7 588.6M69.9 572.0L74.4 570.5M80.5 568.4L85.1 566.8M117.6 555.6L122.2 554.1M24.4 590.6L28.7 589.1M88.0 569.1L92.4 567.6M119.8 558.4L124.4 556.8M15.5 596.4L20.1 594.9M36.7 589.4L41.2 587.9M79.1 575.3L83.8 573.7M89.7 571.8L94.3 570.2M110.9 564.7L115.6 563.2M0.5 604.2L3.9 603.1M20.5 597.7L25.2 596.2M94.7 573.4L99.3 571.9M4.0 605.9L8.8 604.4M19.9 600.8L24.4 599.3M72.9 583.7L77.2 582.4M2.8 609.1L7.3 607.7M29.3 600.7L33.8 599.3M39.9 597.4L44.2 596.0M92.9 580.6L97.3 579.2M0.5 612.6L-0.2 612.9M58.7 594.6L63.0 593.2M95.8 583.0L100.5 581.6M111.7 578.1L116.3 576.6M40.5 603.2L45.0 601.9M72.3 593.5L77.0 592.1M109.4 582.2L113.9 580.8M114.7 580.6L119.5 579.1M37.6 607.1L42.3 605.7M48.2 603.9L52.9 602.5M64.1 599.2L68.8 597.7M80.0 594.4L84.5 593.0M90.6 591.2L95.2 589.8M66.8 601.5L71.3 600.2M98.6 592.1L103.1 590.8M119.8 585.9L124.1 584.6M0.5 623.9L5.1 622.5M32.1 614.7L36.7 613.4M37.4 613.2L41.7 611.9M74.5 602.4L79.0 601.1M59.6 609.9L64.1 608.6M64.9 608.4L69.6 607.0M0.5 629.5L1.9 629.1M2.6 628.9L7.3 627.6M66.2 611.1L70.8 609.8M71.5 609.7L76.3 608.3M52.3 618.1L56.9 616.8M94.7 606.5L99.3 605.3M110.6 602.1L115.2 600.9M53.0 621.0L57.5 619.8M90.1 611.0L94.5 609.8M111.3 605.4L116.0 604.1M116.6 603.9L121.1 602.7M17.7 633.3L22.4 632.1M91.9 613.8L96.4 612.7M0.5 640.7L1.3 640.5M1.8 640.3L6.2 639.2M49.5 628.0L54.3 626.8M60.1 625.3L64.7 624.1M39.0 633.8L43.3 632.7M65.5 627.1L70.1 625.9M70.8 625.8L75.1 624.7M86.7 621.7L91.0 620.7M97.3 619.1L101.9 617.9M118.5 613.7L123.2 612.5M13.2 643.1L17.9 642.0M39.7 636.6L44.4 635.5M92.7 623.5L97.5 622.3M98.0 622.2L102.7 621.1M103.3 620.9L107.7 619.8M96.6 625.9L101.1 624.8M0.5 660.3L1.6 660.0M7.8 658.7L12.4 657.7M60.8 647.0L65.5 646.0M0.8 663.0L5.2 662.1M37.9 655.1L42.6 654.1M43.2 653.9L47.7 653.0M69.7 648.2L74.0 647.3M101.5 641.4L106.0 640.4M34.8 658.7L39.1 657.8M50.7 655.4L55.3 654.4M49.9 658.6L54.5 657.7M60.5 656.5L65.2 655.5M71.1 654.3L75.9 653.3M102.9 647.8L107.5 646.9M44.2 662.8L48.6 661.9M76.0 656.5L80.5 655.6M10.4 672.4L14.9 671.5M47.5 665.2L52.0 664.4M58.1 663.2L62.7 662.3M68.7 661.1L73.4 660.2M74.0 660.1L78.6 659.2M116.4 651.9L120.7 651.1M121.7 650.9L126.4 650.0M23.1 672.9L27.6 672.0M28.4 671.9L32.9 671.0M92.0 659.9L96.7 659.0M0.5 682.7L4.3 682.0M68.5 670.7L72.9 669.9M100.3 665.0L104.9 664.2M105.6 664.1L110.1 663.3M110.9 663.1L115.7 662.3M0.5 685.5L3.3 685.0M73.1 673.0L77.8 672.2M94.3 669.4L98.9 668.6M99.6 668.5L104.0 667.7M120.8 664.8L125.3 664.1M0.5 688.3L3.0 687.9M40.6 681.6L45.0 680.9M83.0 674.6L87.4 673.9M93.6 672.8L98.3 672.0M10.5 689.5L15.2 688.7M73.5 682.5L78.0 681.8M6.6 695.8L11.2 695.1M38.4 691.0L43.1 690.3M15.7 697.3L20.4 696.6" stroke="#c56a34"/>
    <path d="M40.7 476.4L45.0 474.1M72.5 459.6L77.1 457.1M77.8 456.8L82.3 454.4M88.4 451.1L93.1 448.7M120.2 434.3L124.5 432.0M0.8 500.4L5.2 498.1M16.7 492.0L21.5 489.5M22.0 489.2L26.7 486.8M64.4 467.0L69.2 464.5M112.1 441.9L116.8 439.5M117.4 439.2L121.9 436.8M79.2 462.5L83.7 460.1M100.4 451.5L105.1 449.0M5.6 503.5L9.9 501.3M69.2 470.8L74.0 468.4M56.1 480.7L60.7 478.3M0.5 511.7L2.7 510.6M83.0 470.2L87.8 467.8M88.3 467.5L93.1 465.1M104.2 459.5L108.7 457.3M15.7 507.0L20.3 504.7M31.6 499.1L36.3 496.7M68.7 480.6L73.1 478.4M79.3 475.3L83.9 473.0M84.6 472.7L89.0 470.5M105.8 462.1L110.2 459.9M0.5 520.2L3.4 518.7M9.4 515.8L14.2 513.5M25.3 508.0L30.1 505.7M51.8 495.1L56.3 493.0M73.0 484.8L77.4 482.7M78.3 482.2L82.7 480.1M94.2 474.5L99.0 472.1M120.7 461.5L125.5 459.2M21.5 512.8L26.2 510.6M32.1 507.7L36.5 505.6M63.9 492.4L68.5 490.2M106.3 471.9L110.9 469.7M120.5 468.6L124.9 466.5M22.6 518.1L27.2 516.0M54.4 503.1L58.8 501.1M59.7 500.6L64.3 498.5M80.9 490.6L85.3 488.6M102.1 480.7L106.7 478.5M77.8 495.4L82.4 493.2M99.0 485.5L103.3 483.5M5.7 531.8L10.1 529.7M21.6 524.4L26.0 522.4M26.9 522.0L31.7 519.8M111.7 482.9L116.5 480.8M58.1 510.7L62.8 508.6M68.7 505.9L73.1 503.9M74.0 503.5L78.4 501.5M79.3 501.1L84.0 499.0M17.6 532.1L22.2 530.0M60.0 513.0L64.7 510.9M81.2 503.5L85.5 501.5M32.2 528.5L36.9 526.4M42.8 523.8L47.5 521.7M58.7 516.7L63.1 514.7M64.0 514.4L68.6 512.3M69.3 512.0L74.1 509.9M85.2 504.9L89.6 503.0M95.8 500.2L100.4 498.2M0.5 545.4L1.4 545.0M28.9 532.9L33.5 530.9M39.5 528.2L43.8 526.3M87.2 507.3L91.9 505.2M26.9 536.7L31.3 534.8M64.0 520.6L68.7 518.6M23.7 541.1L28.0 539.2M29.0 538.8L33.3 536.9M60.8 525.2L65.5 523.1M113.8 502.4L118.4 500.5M119.1 500.2L123.5 498.3M69.5 524.6L74.1 522.6M38.2 540.8L42.9 538.9M91.2 518.7L95.7 516.8M101.8 514.3L106.2 512.4M117.7 507.6L122.0 505.8M10.3 555.4L14.6 553.6M63.3 533.5L67.8 531.7M89.8 522.6L94.4 520.7M95.1 520.4L99.5 518.6M100.4 518.2L104.7 516.4M105.7 516.0L110.4 514.1M116.3 511.6L120.7 509.8M114.7 515.7L119.3 513.8M5.0 563.2L9.5 561.4M15.6 558.9L20.2 557.1M31.5 552.5L36.0 550.7M36.8 550.4L41.4 548.6M84.5 531.2L89.3 529.3M89.8 529.1L94.6 527.2M95.1 527.0L99.7 525.1M89.1 532.7L93.9 530.8M120.9 520.0L125.6 518.2M9.1 567.2L13.8 565.4M19.7 563.1L24.1 561.4M67.4 544.4L72.0 542.6M78.0 540.3L82.5 538.5M88.6 536.1L93.2 534.3M93.9 534.1L98.4 532.3M10.3 569.6L14.8 567.9M42.1 560.4L46.4 558.7M52.7 556.3L57.5 554.5M89.8 542.2L94.3 540.5M116.3 532.2L121.1 530.3M121.6 530.1L126.0 528.5M5.7 577.1L10.0 575.5M64.0 555.2L68.6 553.5M79.9 549.2L84.4 547.5M95.8 543.3L100.3 541.6M101.1 541.3L105.5 539.6M0.5 581.8L4.1 580.5M73.8 554.7L78.3 553.1M121.5 537.1L126.2 535.3M35.3 572.0L39.6 570.4M104.2 546.8L108.7 545.2M0.5 587.4L1.9 586.9M7.7 584.8L12.2 583.2M23.6 579.1L28.2 577.5M28.9 577.2L33.4 575.6M44.8 571.5L49.5 569.8M92.5 554.4L96.9 552.8M97.8 552.5L102.5 550.8M103.1 550.6L107.8 548.9M108.4 548.7L113.1 547.0M5.9 588.3L10.3 586.8M32.4 578.9L36.9 577.4M101.3 554.6L106.0 552.9M98.0 559.1L102.5 557.5M11.6 592.0L16.2 590.4M22.2 588.4L26.6 586.9M38.1 582.9L42.6 581.4M54.0 577.5L58.5 575.9M59.3 575.6L63.8 574.1M50.9 581.6L55.6 580.0M66.8 576.3L71.5 574.6M72.1 574.5L76.7 572.9M82.7 570.9L87.3 569.3M109.2 561.9L113.6 560.5M20.8 594.7L25.5 593.1M95.0 570.0L99.8 568.4M100.3 568.3L104.8 566.8M121.5 561.2L126.3 559.6M25.8 596.0L30.2 594.5M31.1 594.2L35.6 592.7M36.4 592.5L40.8 591.0M41.7 590.8L46.2 589.3M47.0 589.0L51.5 587.6M62.9 583.8L67.4 582.4M78.8 578.6L83.3 577.2M105.3 570.0L110.0 568.4M121.2 564.8L125.6 563.3M0.5 607.0L-2.1 607.9M41.1 594.0L45.5 592.6M51.7 590.6L56.3 589.1M67.6 585.5L71.9 584.1M78.2 582.0L83.0 580.5M120.6 568.4L125.1 567.0M0.5 609.8L2.1 609.3M13.4 605.8L17.7 604.4M103.5 577.3L107.9 575.9M0.5 612.6L5.0 611.3M5.7 611.0L10.1 609.7M16.3 607.7L21.0 606.3M21.6 606.1L26.1 604.7M32.2 602.8L36.7 601.4M8.7 612.9L13.4 611.5M14.0 611.3L18.6 609.9M35.2 604.8L39.6 603.5M67.0 595.1L71.6 593.7M98.8 585.4L103.3 584.0M21.7 611.9L26.3 610.5M53.5 602.3L58.2 600.9M58.8 600.7L63.3 599.4M3.2 620.3L7.9 618.9M24.4 614.0L29.1 612.6M82.7 596.8L87.1 595.5M0.5 623.9L-0.3 624.1M16.2 619.3L21.0 617.9M101.0 594.8L105.4 593.5M111.6 591.7L116.4 590.3M27.8 618.9L32.2 617.7M80.8 603.8L85.6 602.5M18.5 624.4L22.8 623.2M39.7 618.5L44.3 617.3M31.1 623.9L35.5 622.7M41.7 621.0L46.2 619.8M57.6 616.6L62.1 615.4M73.5 612.3L77.9 611.1M10.6 632.4L15.0 631.2M21.2 629.5L25.9 628.3M26.5 628.1L31.1 626.9M74.2 615.3L79.0 614.0M95.4 609.6L100.0 608.4M106.0 606.8L110.5 605.6M0.5 637.9L1.2 637.7M7.1 639.0L11.6 637.8M23.0 634.9L27.4 633.7M28.3 633.5L33.0 632.3M38.9 630.8L43.7 629.5M70.7 622.6L75.5 621.4M86.6 618.5L91.3 617.3M91.9 617.1L96.4 616.0M97.2 615.8L101.9 614.6M0.5 643.5L0.9 643.4M28.4 636.4L32.8 635.3M18.5 641.8L22.9 640.8M45.0 635.3L49.7 634.1M66.2 630.1L70.6 629.0M82.1 626.1L86.8 625.0M1.2 648.9L5.6 647.8M27.7 642.5L32.3 641.4M33.0 641.2L37.6 640.1M38.3 640.0L43.0 638.8M59.5 634.8L63.9 633.8M64.8 633.6L69.5 632.4M107.2 623.3L111.9 622.2M0.7 651.8L5.2 650.8M37.8 643.1L42.1 642.1M48.4 640.6L53.0 639.5M53.7 639.3L58.2 638.3M69.6 635.6L73.9 634.5M96.1 629.3L100.5 628.3M0.5 654.7L1.1 654.5M17.6 650.7L22.1 649.7M54.7 642.2L59.4 641.1M60.0 641.0L64.6 639.9M75.9 637.3L80.5 636.2M107.7 630.0L112.3 628.9M113.0 628.7L117.7 627.6M118.3 627.5L122.8 626.5M0.8 657.4L5.5 656.4M37.9 649.1L42.3 648.1M64.4 643.1L69.0 642.1M69.7 641.9L74.3 640.9M66.1 645.9L70.6 644.9M92.6 640.0L97.3 639.0M0.5 663.1L-0.2 663.2M16.7 659.6L21.1 658.7M59.1 650.5L63.6 649.6M90.9 643.7L95.4 642.7M106.8 640.3L111.1 639.4M29.5 659.8L33.8 658.9M0.5 668.7L1.3 668.5M39.3 660.8L43.7 659.9M1.8 671.2L6.6 670.3M12.4 669.1L16.7 668.3M23.0 667.0L27.7 666.1M65.4 658.6L69.8 657.7M113.1 649.1L117.5 648.3M79.3 659.1L83.6 658.2M84.6 658.0L89.3 657.1M95.2 656.0L99.7 655.1M1.9 676.8L6.3 676.0M49.6 667.9L54.0 667.1M81.4 661.9L86.0 661.0M21.8 676.0L26.6 675.1M69.5 667.3L74.0 666.5M63.2 671.6L67.8 670.8M0.5 685.5L-1.9 685.9M20.1 682.1L24.9 681.3M25.4 681.2L29.9 680.5M36.0 679.4L40.6 678.6M110.2 666.7L115.0 665.8M115.5 665.7L119.8 665.0M120.1 668.4L124.8 667.6M0.5 691.1L-1.0 691.4M31.7 686.1L36.0 685.4M63.5 681.0L68.2 680.2M105.9 674.1L110.4 673.4M121.8 671.6L126.5 670.8M9.9 692.4L14.7 691.7M36.4 688.3L40.8 687.6M52.3 685.8L56.7 685.2M57.6 685.0L62.1 684.3M78.8 681.7L83.4 681.0M84.1 680.9L88.6 680.2M121.2 675.1L125.9 674.4M0.5 696.7L0.6 696.7M1.3 696.6L5.7 695.9M54.3 688.6L59.1 687.9M70.2 686.2L74.7 685.6M86.1 683.8L90.8 683.1M36.9 694.2L41.3 693.6M111.1 683.5L115.7 682.8" stroke="#d9a868"/>
    <path d="M67.2 462.4L71.8 460.0M0.5 500.5L0.0 500.8M43.2 478.1L47.7 475.7M53.8 472.5L58.3 470.2M59.1 469.8L63.9 467.3M101.5 447.5L106.2 445.1M58.6 476.3L62.9 474.1M95.7 457.2L100.0 455.0M111.6 449.0L116.3 446.6M3.1 507.6L7.4 505.4M13.7 502.2L18.4 499.9M50.8 483.4L55.3 481.1M61.4 478.0L65.9 475.7M0.5 511.7L-2.7 513.3M40.6 491.5L45.1 489.3M51.2 486.2L55.7 483.9M5.1 512.3L9.7 510.0M10.4 509.6L14.8 507.4M89.9 470.0L94.4 467.8M40.9 497.4L45.4 495.2M88.6 473.9L93.1 471.7M115.1 460.9L119.5 458.7M20.0 510.6L24.4 508.5M46.5 497.7L50.9 495.6M57.1 492.5L61.6 490.4M62.4 490.0L66.9 487.8M0.5 523.0L-0.5 523.4M58.6 494.9L63.0 492.8M90.4 479.6L95.2 477.3M0.5 525.8L3.0 524.6M46.3 503.9L50.9 501.7M67.5 493.8L72.1 491.6M88.7 483.7L93.0 481.7M109.9 473.6L114.3 471.5M0.5 528.6L0.5 528.6M6.7 525.6L11.4 523.4M33.2 513.1L37.6 511.1M49.1 505.6L53.5 503.6M75.6 493.1L80.3 491.0M107.4 478.2L111.9 476.0M8.9 527.5L13.4 525.4M51.3 507.7L55.6 505.7M74.6 500.0L79.1 497.9M0.5 537.0L4.4 535.2M15.7 530.0L20.1 528.0M21.0 527.6L25.8 525.4M121.7 481.8L126.2 479.7M33.5 524.9L38.0 522.9M38.8 522.6L43.3 520.5M49.4 517.8L54.2 515.6M54.7 515.4L59.4 513.3M65.3 510.6L69.6 508.7M70.6 508.2L75.1 506.2M106.4 495.5L110.7 493.6M13.0 539.9L17.4 538.0M81.9 509.6L86.5 507.6M103.1 500.3L107.6 498.3M0.5 548.2L4.8 546.3M48.1 527.5L52.8 525.5M34.3 536.5L39.0 534.5M76.7 518.3L81.0 516.5M82.0 516.1L86.6 514.1M37.7 538.1L42.3 536.1M96.0 513.4L100.7 511.4M106.6 508.9L111.0 507.0M111.9 506.7L116.2 504.8M1.1 556.3L5.6 554.5M27.6 545.3L32.0 543.4M64.7 529.8L69.1 527.9M85.9 520.9L90.4 519.0M96.5 516.5L101.0 514.6M47.4 540.1L52.0 538.2M58.0 535.7L62.6 533.8M68.6 531.3L73.2 529.4M84.5 524.8L88.9 522.9M61.7 537.3L66.3 535.4M0.5 565.0L4.2 563.5M42.1 548.3L46.5 546.5M47.4 546.1L52.0 544.3M94.4 530.6L98.9 528.8M25.0 561.0L29.6 559.2M0.5 573.4L4.1 572.0M26.2 563.5L31.0 561.7M36.8 559.4L41.2 557.7M10.3 572.5L14.8 570.8M20.9 568.4L25.4 566.7M47.4 558.4L52.1 556.6M58.0 554.3L62.7 552.5M84.5 544.3L89.0 542.5M100.4 538.2L104.8 536.5M105.7 536.2L110.5 534.4M11.0 575.1L15.3 573.4M85.2 547.3L89.9 545.5M15.5 576.3L20.3 574.5M95.0 546.9L99.8 545.1M0.5 584.6L2.9 583.7M8.8 581.6L13.3 579.9M67.1 560.4L71.4 558.8M83.0 554.6L87.5 552.9M93.6 550.7L97.9 549.1M120.1 541.1L124.5 539.4M76.6 560.1L81.1 558.5M81.9 558.2L86.6 556.5M119.0 544.9L123.5 543.3M16.5 584.6L21.3 582.9M27.1 580.8L31.4 579.3M74.8 563.9L79.6 562.2M66.2 570.1L70.8 568.5M119.2 551.7L124.0 550.0M101.7 561.1L106.3 559.5M112.3 557.5L117.1 555.8M35.0 587.0L39.3 585.5M103.9 563.7L108.4 562.2M0.5 601.4L-1.0 601.9M42.0 587.6L46.5 586.2M47.3 585.9L51.8 584.4M63.2 580.6L67.9 579.0M68.5 578.8L73.3 577.3M105.6 566.5L110.0 565.0M15.2 599.4L19.8 597.9M46.4 592.3L50.8 590.9M57.0 588.9L61.3 587.5M94.1 576.9L98.7 575.5M24.0 602.4L28.4 601.0M71.7 587.3L76.0 586.0M53.4 596.2L57.9 594.8M79.9 588.0L84.6 586.5M19.3 609.7L23.7 608.3M24.6 608.1L29.1 606.7M61.7 596.7L66.0 595.4M104.1 583.8L108.7 582.4M120.0 578.9L124.3 577.6M106.5 586.4L111.2 585.0M21.5 617.8L25.8 616.5M48.0 610.1L52.5 608.8M95.7 596.3L100.2 595.0M0.5 626.7L0.6 626.6M17.2 621.9L21.9 620.6M33.1 617.4L37.5 616.2M91.4 600.8L95.9 599.6M112.6 594.8L117.1 593.5M34.4 620.0L38.7 618.8M103.3 600.8L107.7 599.6M119.2 596.4L123.7 595.1M15.2 628.2L19.7 627.0M20.5 626.8L25.2 625.5M62.9 615.2L67.4 614.0M89.4 607.9L94.1 606.7M121.2 599.2L125.8 598.0M0.5 635.1L4.4 634.0M5.3 633.8L10.0 632.5M42.4 623.8L47.0 622.6M121.9 602.5L126.5 601.3M97.2 612.5L101.9 611.2M107.8 609.7L112.2 608.5M17.7 636.2L22.3 635.1M44.2 629.4L48.8 628.2M102.5 614.4L107.2 613.2M118.4 610.3L122.8 609.2M12.5 640.5L16.9 639.3M23.1 637.8L27.8 636.6M92.0 620.4L96.4 619.3M0.5 646.3L2.1 645.9M29.1 639.2L33.8 638.1M55.6 632.7L60.4 631.5M6.5 647.6L11.1 646.5M11.8 646.4L16.5 645.2M22.4 643.8L27.1 642.6M48.9 637.4L53.3 636.3M86.0 628.4L90.5 627.4M80.2 633.1L84.7 632.0M7.0 653.2L11.4 652.2M12.3 652.0L16.7 651.0M22.9 649.5L27.4 648.5M44.1 644.6L48.5 643.6M49.4 643.4L54.0 642.3M65.3 639.7L70.0 638.6M106.8 633.5L111.5 632.5M13.1 657.5L17.8 656.5M76.7 643.5L81.4 642.5M108.5 636.5L112.8 635.6M27.3 657.3L32.0 656.3M64.4 649.4L68.7 648.4M96.2 642.6L100.6 641.6M8.3 664.3L12.9 663.3M18.9 662.1L23.7 661.0M71.9 651.0L76.6 650.0M98.4 645.4L103.0 644.4M7.5 667.3L12.2 666.3M65.8 655.4L70.4 654.4M113.5 645.6L118.0 644.7M33.6 664.9L37.9 664.1M0.5 674.3L4.2 673.6M26.3 669.3L31.0 668.4M7.2 675.8L11.6 675.0M33.7 670.9L38.0 670.1M70.8 663.9L75.1 663.1M76.1 662.9L80.8 662.0M11.2 678.0L15.7 677.1M16.5 677.0L20.9 676.2M53.6 670.2L58.2 669.4M84.4 667.8L89.0 667.0M4.2 684.9L8.9 684.1M9.5 684.0L13.9 683.2M14.8 683.1L19.4 682.3M78.4 672.1L83.1 671.3M35.3 682.5L39.7 681.8M45.9 680.8L50.6 680.0M56.5 679.0L61.2 678.2M67.1 677.2L71.5 676.5M72.4 676.3L76.9 675.6M0.5 691.1L4.2 690.5M42.3 684.4L46.8 683.7M111.2 673.3L115.6 672.6M20.5 690.8L25.1 690.1M31.1 689.1L35.8 688.4M41.7 687.5L46.4 686.8M27.8 692.6L32.5 691.9M33.1 691.8L37.9 691.1M10.4 698.1L14.8 697.5" stroke="#c9b06c"/>
    <path d="M48.5 475.3L52.9 473.0M85.6 455.8L90.1 453.5M58.0 473.5L62.5 471.1M105.7 448.7L110.3 446.3M116.9 446.3L121.5 443.9M0.5 508.9L2.5 507.9M24.3 496.9L28.7 494.6M29.6 494.2L34.1 491.8M40.2 488.8L44.9 486.4M66.7 475.3L71.2 473.0M14.4 510.5L19.0 508.2M5.6 520.5L10.1 518.3M26.8 510.3L31.4 508.1M19.8 516.6L24.3 514.4M5.1 534.9L9.5 532.9M0.5 539.8L0.8 539.6M22.9 529.7L27.2 527.7M48.1 521.4L52.9 519.3M101.1 504.5L105.8 502.5M44.9 532.0L49.6 530.0M27.1 542.5L31.4 540.7M52.7 537.9L57.2 536.0M0.5 562.2L2.5 561.4M8.7 558.8L13.5 556.9M35.2 548.1L39.9 546.1M109.4 517.8L113.9 516.0M120.0 513.5L124.5 511.7M104.5 529.9L109.1 528.1M15.6 567.6L20.2 565.8M105.7 532.8L110.4 531.0M21.6 571.1L26.1 569.4M37.5 565.1L41.9 563.5M111.7 537.3L116.3 535.6M55.4 567.7L60.0 566.1M39.7 579.4L44.2 577.8M60.9 572.0L65.3 570.5M48.7 579.3L53.3 577.7M3.2 597.7L7.5 596.3M4.6 602.9L9.1 601.4M0.5 607.0L3.2 606.2M50.5 594.0L54.9 592.6M5.8 616.7L10.3 615.3M61.5 603.1L66.0 601.7M93.3 593.7L97.9 592.3M114.5 587.4L119.2 586.0M75.5 605.3L79.9 604.1M86.1 602.3L90.8 601.0M102.0 597.8L106.5 596.5M92.7 603.7L97.3 602.5M4.6 631.1L9.1 629.9M25.8 625.3L30.5 624.1M84.8 612.5L89.2 611.3M1.8 637.5L6.2 636.4M70.7 619.4L75.4 618.2M33.7 635.1L38.2 634.0M49.6 631.1L54.3 629.9M0.5 657.5L-0.1 657.6M87.3 641.2L91.7 640.2M119.1 634.2L123.8 633.2M53.8 651.7L58.2 650.7M119.6 641.0L124.2 640.0M2.2 668.3L6.8 667.4M7.1 670.2L11.8 669.3M38.9 663.9L43.5 663.0M49.5 661.8L54.1 660.9M54.8 660.7L59.2 659.8M0.5 674.3L-1.2 674.6M12.5 674.9L17.0 674.0M107.9 656.9L112.4 656.1M96.0 662.5L100.5 661.7M106.6 660.5L111.0 659.7M31.4 677.2L36.1 676.4M47.3 674.4L51.8 673.6M52.6 673.5L57.2 672.7M73.8 669.7L78.4 668.9M19.4 685.2L23.8 684.4M68.8 680.1L73.1 679.4M84.7 677.6L89.3 676.8M107.3 680.7L111.7 680.0M58.1 691.2L62.7 690.5" stroke="#a5552f"/>
    <path d="M3.6 496.1L8.3 493.6M19.5 487.7L23.8 485.4M24.8 484.9L29.1 482.5M30.1 482.1L34.7 479.6M46.0 473.6L50.5 471.2M11.4 494.8L16.1 492.3M96.2 450.3L100.9 447.8M68.6 468.0L73.2 465.5M89.8 457.0L94.3 454.6M10.9 500.8L15.3 498.5M16.2 498.1L20.9 495.7M21.5 495.4L26.0 493.1M63.9 473.6L68.6 471.1M87.9 464.5L92.4 462.2M93.2 461.8L97.6 459.5M103.8 456.4L108.1 454.2M119.7 448.3L124.2 446.0M14.1 504.9L18.4 502.7M47.5 491.1L52.0 488.9M52.8 488.5L57.5 486.1M35.6 500.1L39.9 497.9M46.2 494.8L50.8 492.6M104.5 466.1L109.1 463.8M109.8 463.5L114.5 461.2M99.5 471.9L103.9 469.8M115.4 464.1L119.8 462.0M0.5 523.0L5.1 520.8M16.2 515.4L21.0 513.1M42.7 502.6L47.5 500.3M48.0 500.0L52.5 497.9M111.6 469.4L116.0 467.3M14.5 519.1L19.2 516.8M83.4 486.3L87.8 484.2M104.6 476.2L108.9 474.1M27.9 515.6L32.3 513.6M38.5 510.6L43.3 508.4M0.5 531.4L3.0 530.2M19.5 522.5L23.9 520.5M24.8 520.0L29.3 518.0M40.7 512.6L45.3 510.5M83.1 492.9L87.6 490.8M93.7 487.9L98.1 485.9M79.9 497.6L84.5 495.5M85.2 495.1L90.0 492.9M10.4 532.4L14.8 530.5M26.3 525.2L31.1 523.0M116.4 484.2L121.1 482.1M28.2 527.3L32.9 525.2M44.1 520.2L48.6 518.1M75.9 505.9L80.4 503.8M91.8 498.7L96.5 496.6M0.5 542.6L4.8 540.7M16.3 535.6L20.8 533.5M26.9 530.9L31.3 528.9M117.0 490.8L121.3 488.9M44.8 525.9L49.4 523.9M76.6 511.9L81.0 510.0M32.2 534.4L36.6 532.5M37.5 532.1L41.9 530.2M58.7 522.9L63.2 521.0M95.8 506.8L100.1 505.0M2.5 550.1L7.1 548.2M103.2 507.0L107.6 505.1M0.5 553.8L-0.1 554.0M16.5 547.0L21.2 545.0M21.8 544.8L26.5 542.8M32.4 540.3L36.8 538.4M43.0 535.8L47.5 533.9M48.3 533.6L52.7 531.7M58.9 529.1L63.3 527.2M85.4 517.9L90.2 515.8M117.2 504.4L121.8 502.4M6.4 554.1L11.0 552.2M17.0 549.7L21.6 547.8M59.4 532.0L64.0 530.1M80.6 523.1L85.1 521.2M112.4 509.8L117.0 507.9M0.5 559.4L4.0 557.9M42.1 542.2L46.8 540.3M79.2 526.9L83.9 525.0M3.4 561.0L7.8 559.2M72.3 533.0L76.7 531.2M98.8 522.2L103.1 520.4M104.1 520.0L108.5 518.2M52.7 544.0L57.5 542.1M68.6 537.6L72.9 535.9M4.3 566.3L8.9 564.5M9.6 564.2L14.2 562.4M52.0 547.4L56.7 545.5M57.3 545.3L61.9 543.4M73.2 539.0L78.0 537.1M105.0 526.4L109.5 524.6M0.5 570.6L3.1 569.6M46.2 552.7L50.9 550.9M99.2 532.0L103.9 530.2M120.4 523.7L125.1 521.9M5.0 571.7L9.4 570.0M68.6 547.2L73.3 545.3M79.2 543.1L83.9 541.2M84.5 541.0L88.9 539.3M5.0 574.5L9.6 572.7M111.0 534.2L115.3 532.5M32.2 567.1L36.9 565.4M48.1 561.2L52.7 559.4M106.4 539.3L110.7 537.7M4.9 580.2L9.6 578.4M47.3 564.5L51.7 562.9M84.4 550.8L89.2 549.0M116.2 539.0L120.9 537.3M40.6 570.0L45.3 568.3M45.9 568.1L50.4 566.4M61.8 562.3L66.2 560.7M72.4 558.4L77.1 556.7M98.9 548.8L103.5 547.1M109.5 544.9L114.0 543.3M66.0 563.9L70.8 562.2M113.7 546.8L118.3 545.1M64.2 567.7L68.7 566.1M80.1 562.1L84.8 560.4M0.5 593.0L1.7 592.6M2.6 592.3L7.2 590.7M34.4 581.2L38.8 579.7M87.4 562.7L91.7 561.2M92.7 560.9L97.1 559.4M113.9 553.5L118.3 552.0M91.1 564.7L95.6 563.2M13.8 594.2L18.3 592.6M93.3 567.3L97.7 565.8M114.5 560.2L119.1 558.6M4.9 600.0L9.3 598.5M10.2 598.2L14.7 596.7M52.6 584.1L57.3 582.6M84.1 576.9L88.4 575.5M9.3 604.2L13.7 602.8M30.5 597.4L35.3 595.8M62.3 587.2L66.8 585.7M115.3 570.1L120.0 568.6M45.2 595.7L49.8 594.3M61.1 590.7L65.4 589.3M26.9 604.4L31.6 603.0M48.1 597.8L52.6 596.4M101.1 581.4L105.7 579.9M29.9 606.5L34.6 605.0M45.8 601.6L50.3 600.2M88.2 588.7L92.7 587.3M74.7 596.0L79.3 594.6M111.8 584.8L116.5 583.4M117.1 583.2L121.6 581.9M29.7 612.4L34.2 611.1M35.0 610.9L39.7 609.5M40.3 609.3L44.9 608.0M50.9 606.2L55.2 604.9M72.1 599.9L76.4 598.7M10.9 620.8L15.5 619.5M26.8 616.2L31.6 614.9M79.8 600.9L84.2 599.6M11.9 623.4L16.5 622.1M117.9 593.3L122.6 592.0M23.8 623.0L28.5 621.7M55.6 614.1L60.1 612.8M82.1 606.7L86.6 605.5M36.4 622.4L41.0 621.2M100.0 605.0L104.5 603.8M47.7 622.4L52.1 621.2M63.6 618.1L68.2 616.9M12.4 634.7L17.0 633.5M113.1 608.3L117.6 607.1M12.4 637.6L16.8 636.5M33.6 632.1L38.0 631.0M54.8 626.7L59.4 625.5M76.1 624.4L80.9 623.2M76.8 627.5L81.4 626.3M87.4 624.8L92.1 623.7M113.9 618.3L118.6 617.1M75.4 631.0L79.8 629.9M101.9 624.6L106.3 623.6M117.8 620.8L122.5 619.6M0.5 651.9L0.1 652.0M11.3 649.3L15.7 648.3M21.9 646.8L26.6 645.7M59.0 638.1L63.3 637.1M28.2 648.3L32.6 647.3M33.5 647.1L38.0 646.0M86.5 634.8L91.2 633.8M97.1 632.4L101.4 631.4M16.7 653.8L21.4 652.8M43.2 647.9L47.9 646.8M48.5 646.7L53.0 645.7M53.8 645.5L58.4 644.4M101.5 634.7L106.3 633.6M112.1 632.3L116.5 631.4M18.4 656.4L22.8 655.4M29.0 654.0L33.5 653.0M85.6 644.8L90.1 643.9M112.1 639.1L116.6 638.2M109.0 643.2L113.3 642.3M114.3 642.1L119.0 641.1M18.1 665.1L22.8 664.2M44.6 659.7L49.3 658.7M97.2 652.3L101.6 651.4M107.8 650.2L112.4 649.3M42.2 666.2L46.9 665.3M52.8 664.2L57.1 663.4M97.3 658.9L101.7 658.1M102.6 657.9L107.3 657.0M113.2 655.9L117.8 655.1M0.6 679.9L5.3 679.0M5.9 678.9L10.3 678.1M74.8 666.3L79.3 665.5M85.4 664.4L89.8 663.6M36.7 676.3L41.2 675.5M46.6 677.6L51.3 676.8M51.9 676.7L56.3 675.9M67.8 673.9L72.5 673.1M61.8 678.1L66.2 677.4M98.9 671.9L103.3 671.2M5.2 690.4L9.6 689.7M37.0 685.2L41.5 684.5M74.1 679.3L78.4 678.6M68.2 683.4L73.0 682.6M89.4 680.1L94.2 679.3M105.3 677.6L109.9 676.9M110.6 676.8L115.3 676.0M64.9 687.0L69.2 686.4M75.5 685.4L80.0 684.8M91.4 683.0L96.0 682.4M102.0 681.4L106.5 680.8M117.9 679.1L122.6 678.4M100.5 685.0L105.1 684.3M116.4 682.7L120.8 682.1" stroke="#e2c394"/>
    <path d="M83.1 454.0L87.5 451.6M93.7 448.3L98.2 445.9M104.3 442.7L108.6 440.4M106.8 444.7L111.6 442.2M47.4 479.0L51.7 476.7M84.5 459.7L89.2 457.3M26.8 492.6L31.1 490.4M8.4 504.9L13.1 502.6M98.5 459.1L102.9 456.8M8.8 507.6L13.3 505.3M93.6 464.9L98.2 462.5M26.3 501.7L31.1 499.3M58.1 485.9L62.9 483.5M95.2 467.4L99.8 465.1M121.7 454.2L126.4 451.8M0.5 517.4L-2.2 518.7M0.5 517.4L3.3 516.0M3.8 515.7L8.4 513.5M9.1 513.1L13.8 510.8M25.0 505.3L29.7 503.0M56.8 489.6L61.1 487.5M67.4 484.4L72.0 482.1M120.4 458.3L124.8 456.1M35.9 502.9L40.3 500.8M67.7 487.4L72.4 485.1M104.8 469.3L109.2 467.2M37.4 505.2L41.9 503.0M9.2 521.6L13.5 519.6M41.0 506.5L45.3 504.4M3.6 529.9L8.1 527.8M30.1 517.6L34.4 515.6M67.2 500.3L72.0 498.1M88.4 490.4L92.7 488.4M114.9 478.1L119.3 476.0M0.5 534.2L-0.2 534.5M0.5 534.2L5.0 532.1M101.1 487.8L105.9 485.6M42.2 518.0L46.7 515.9M12.3 534.5L16.6 532.5M118.3 486.8L123.0 484.6M0.5 542.6L-0.6 543.1M92.5 505.0L96.8 503.1M119.0 493.3L123.6 491.3M21.6 539.0L26.0 537.1M90.5 509.1L95.1 507.1M106.4 502.2L111.1 500.2M0.5 551.0L1.9 550.4M50.2 529.7L54.9 527.7M55.5 527.4L59.8 525.6M97.9 509.3L102.3 507.4M108.5 504.7L113.2 502.7M0.5 556.6L0.1 556.8M11.7 551.9L16.2 550.0M22.3 547.5L26.9 545.5M54.1 534.2L58.7 532.3M26.2 548.8L30.7 546.9M73.9 529.1L78.5 527.2M56.4 539.4L60.8 537.6M67.0 535.1L71.5 533.3M58.0 541.9L62.4 540.1M116.3 518.5L121.0 516.6M0.5 567.8L3.7 566.5M14.9 562.1L19.3 560.4M30.8 555.8L35.2 554.0M36.1 553.7L40.7 551.9M41.4 551.6L45.8 549.8M78.5 536.9L82.9 535.1M110.3 524.2L115.0 522.4M35.6 556.9L40.1 555.1M56.8 548.6L61.5 546.7M31.5 561.5L36.1 559.7M58.0 551.2L62.3 549.6M73.9 545.1L78.5 543.3M95.1 536.9L99.5 535.2M116.3 528.7L120.7 527.0M26.2 566.4L30.6 564.7M58.7 557.2L63.1 555.5M69.3 553.2L73.7 551.6M90.5 545.3L94.8 543.6M42.0 566.5L46.3 564.9M68.5 556.7L73.1 555.0M0.5 584.6L-2.8 585.8M88.3 552.6L92.8 551.0M34.2 575.3L38.9 573.6M39.5 573.4L43.9 571.9M60.7 565.8L65.1 564.2M43.0 575.2L47.6 573.6M6.3 593.8L10.8 592.3M85.8 566.6L90.2 565.1M0.5 598.6L2.4 598.0M8.5 595.9L13.2 594.3M19.1 592.4L23.4 590.9M40.3 585.2L44.9 583.6M56.2 579.8L60.7 578.3M77.4 572.7L82.1 571.1M26.1 592.9L30.5 591.5M31.4 591.2L36.2 589.6M57.9 582.3L62.5 580.8M73.8 577.1L78.5 575.5M89.4 575.2L93.8 573.7M115.9 566.5L120.5 565.0M14.6 602.5L19.3 601.0M83.5 580.3L87.8 579.0M8.1 607.5L12.5 606.1M34.6 599.1L39.3 597.6M55.8 592.4L60.3 590.9M66.4 589.0L70.9 587.6M77.0 585.7L81.5 584.2M82.3 584.0L87.0 582.5M87.6 582.3L92.1 580.9M37.5 601.1L42.2 599.7M42.8 599.5L47.2 598.1M74.6 589.6L79.2 588.2M56.4 598.4L60.7 597.1M82.9 590.3L87.5 588.9M93.5 587.0L97.9 585.7M0.5 618.2L5.1 616.9M27.0 610.3L31.8 608.9M101.2 588.0L105.8 586.6M8.5 618.7L12.8 617.4M19.1 615.6L23.5 614.3M45.6 607.8L50.0 606.5M103.9 590.6L108.3 589.3M109.2 589.0L113.6 587.7M42.7 611.6L47.1 610.4M90.4 597.8L95.2 596.5M1.3 626.4L5.8 625.2M22.5 620.4L27.1 619.1M96.7 599.3L101.5 598.0M13.2 625.9L17.9 624.6M45.0 617.0L49.4 615.8M76.8 608.2L81.6 606.9M87.4 605.2L91.8 604.0M98.0 602.3L102.4 601.0M105.3 603.6L109.7 602.4M115.9 600.7L120.4 599.5M31.8 626.7L36.4 625.4M23.0 632.0L27.7 630.7M33.6 629.2L38.2 628.0M65.4 620.8L70.0 619.6M76.0 618.0L80.7 616.8M102.5 611.1L106.9 609.9M118.4 606.9L123.1 605.6M65.4 624.0L69.8 622.8M1.9 643.1L6.2 642.0M60.2 628.4L64.5 627.3M107.9 616.4L112.2 615.3M50.3 634.0L55.0 632.8M71.5 628.8L76.2 627.6M108.6 619.6L113.3 618.4M119.2 617.0L123.9 615.8M32.5 644.3L36.8 643.3M43.1 641.8L47.7 640.7M74.9 634.3L79.5 633.2M85.5 631.8L90.1 630.7M90.8 630.6L95.4 629.5M1.7 654.4L6.4 653.3M70.6 638.5L75.3 637.4M91.8 633.6L96.4 632.6M102.4 631.2L106.8 630.2M22.0 652.6L26.5 651.6M32.6 650.3L37.0 649.3M59.1 644.3L63.8 643.2M90.9 637.1L95.3 636.1M82.0 642.4L86.7 641.3M103.2 637.7L107.9 636.6M113.8 635.4L118.1 634.4M0.5 665.9L2.3 665.5M13.6 663.2L18.0 662.2M40.1 657.6L44.4 656.7M45.4 656.5L50.1 655.5M81.7 652.1L86.5 651.2M0.5 671.5L1.1 671.4M17.7 668.1L22.5 667.1M70.7 657.6L75.4 656.6M86.6 654.4L91.3 653.5M5.1 673.4L9.8 672.5M15.7 671.4L20.2 670.5M111.1 652.9L115.6 652.1M44.3 668.9L48.6 668.1M43.0 672.1L47.5 671.3M64.2 668.3L68.7 667.5M90.7 663.4L95.2 662.6M111.9 659.6L116.3 658.8M10.2 681.0L15.0 680.1M79.1 668.8L83.5 668.0M95.0 666.0L99.5 665.2M121.5 661.3L126.2 660.4M57.2 675.8L62.0 674.9M3.5 687.8L7.9 687.1M8.8 686.9L13.6 686.1M24.7 684.3L29.4 683.5M88.3 673.7L92.9 672.9M109.5 670.2L113.9 669.4M15.8 688.7L20.2 687.9M21.1 687.8L25.6 687.1M47.6 683.5L52.3 682.8M52.9 682.7L57.4 682.0M79.4 678.4L83.7 677.7M116.5 672.4L120.9 671.7M4.6 693.3L9.0 692.6M100.0 678.4L104.8 677.7M59.6 687.8L63.9 687.2M80.8 684.6L85.3 684.0M0.5 699.5L4.4 699.0M26.3 695.8L30.7 695.1M31.6 695.0L36.1 694.4M42.2 693.5L46.7 692.8M47.5 692.7L52.3 692.0M68.7 689.6L73.5 688.9M84.6 687.3L89.4 686.6" stroke="#d7964f"/>
  </g>
  <polygon points="1.2,478 1.2,521 25,509.5 6,480" fill="url(#bargeG)"/>
  <polygon points="12.6,511.5 16.8,502.8 22.4,509.6 22.4,510.8 13,515" fill="#6f7f78"/>
  <path d="M16.8 502.8L21 509.4" stroke="#f2f2f2" stroke-width="1"/>
  <path d="M1.2 525.2L26 511.8" stroke="#2a1a10" stroke-width="1.3"/>
  <polygon points="26.9,569.7 50.4,560.8 50.4,565.2 29.2,573" fill="#3c2c22"/>
  <polygon points="28.8,572.8 50.2,565.4 50.2,615 28.8,622.2" fill="#f7f7f9"/>
  <polygon points="32.6,575.4 40.2,572.8 40.2,583.4 32.6,586" fill="#d3dadd"/>
  <polygon points="41.6,572.4 48.4,570 48.4,580.8 41.6,583.2" fill="#d3dadd"/>
  <polygon points="32.6,588.6 48.4,583.4 48.4,611.6 32.6,617" fill="#cbbacb"/>
  <polygon points="28.8,622.2 50.2,615 50.2,619 28.8,626.4" fill="#bf7a4a"/>
  <polygon points="23,629.2 49.8,621.2 49.8,623 23,631" fill="#2e1c14"/>
  <path d="M27.3 565.9v-6M30.3 564.9v-6M33.3 563.9v-6M36.3 562.9v-6M39.3 561.9v-6M42.3 561.0v-6M45.3 560.0v-6M48.3 559.0v-6" stroke="#b4562c" stroke-width="1.4"/>
  <polygon points="3.5,463.3 60.0,474.8 130.0,489.4 198.7,505.9 304.7,533.3 313.0,538.0 339.0,558.5 369.0,583.0 400.8,610.6 437.2,641.4 449.2,651.5 300.0,643.0 117.0,632.2 119.1,643.4 83.1,590.0 60.5,553.5 28.6,502.6 3.5,468.0" fill="#3b3a38"/>
  <polygon points="3.5,463.3 60.0,474.8 130.0,489.4 198.7,505.9 304.7,533.3 313.0,538.0 339.0,558.5 369.0,583.0 400.8,610.6 437.2,641.4 449.2,651.5 300.0,643.0 117.0,632.2 119.1,643.4 83.1,590.0 60.5,553.5 28.6,502.6 3.5,468.0" fill="url(#tiles)"/>
  <polyline points="3.5,463.3 60.0,474.8 130.0,489.4 198.7,505.9 304.7,533.3" fill="none" stroke="#2a2a2a" stroke-width="2"/>
  <polygon points="1.6,467.0 23.1,502.6 55.0,553.5 77.6,590.0 113.6,643.4 119.6,642.4 83.6,589.0 61.0,552.5 29.1,501.6 7.6,466.0" fill="url(#stripG)"/>
  <polyline points="2.8,467.0 24.3,502.6 56.2,553.5 78.8,590.0 114.8,643.4" fill="none" stroke="#6c7a84" stroke-width="0.8" opacity="0.6"/>
  <path d="M54 474.5V486" stroke="#cfd4d8" stroke-width="1"/><ellipse cx="57.5" cy="487" rx="2.6" ry="2" fill="#1c1c1c"/>
  <polygon points="175.3,486.2 198.2,488.6 198.2,512 175.3,506" fill="#59636e"/>
  <polygon points="188,487.5 198.2,488.6 198.2,512 188,509.4" fill="#4c5560"/>
  <polygon points="173.8,484.4 199.6,486.6 199.6,489.2 173.8,487" fill="#333a42"/>
  <path d="M180 483.5V478M194 485V480" stroke="#222" stroke-width="1.2"/>
  <polygon points="172.2,478 178,474.4 201.4,477.6 197,482.6" fill="#151515"/>
  <rect x="191.6" y="480.6" width="2" height="3" fill="#4a78c0"/>
  <polygon points="72.7,499.6 159.4,515.6 198,556 106,541" fill="#6e6450"/>
  <polygon points="80.8,502.9 157.6,517 194.4,555.4 106.5,541.2" fill="url(#thermG)"/>
  <path d="M122.4,510.6L152.4,548.6" stroke="#4a4a5c" stroke-width="1.4"/>
  <path d="M123.6,510.8L153.6,548.8" stroke="#8a92c0" stroke-width="0.6"/>
  <polygon points="238.5,563 262,567.2 299,601.6 294,606 281,604" fill="#2c2c2c"/>
  <polygon points="248,571.8 268.5,574 289,600.6 272,601" fill="#55585c"/>
  <polygon points="251.5,575 266.5,576 285.5,599 273.5,599.3" fill="url(#skyG)"/>
  <polygon points="272,601 289,600.6 291,603.4 274,604" fill="#9a9c9e"/>
  <path d="M120.7 619.0L302.8 632.3" stroke="#161616" stroke-width="2.2"/>
  <path d="M330.8 636.3L437.7 641.4" stroke="#161616" stroke-width="2.2"/>
  <polygon points="157.0,503.2 314.2,538.5 368.6,583.1 204.9,557.3" fill="url(#pvGB)"/>
  <path d="M161.8 504.3L210.1 558.1M166.5 505.3L215.2 558.9M171.2 506.4L220.2 559.7M175.8 507.4L225.1 560.5M180.4 508.4L230.0 561.3M189.3 510.4L239.5 562.8M193.6 511.4L244.1 563.5M198.0 512.4L248.7 564.2M202.2 513.3L253.2 564.9M206.4 514.3L257.6 565.6M214.6 516.1L266.3 567.0M218.7 517.0L270.5 567.6M222.7 517.9L274.7 568.3M226.6 518.8L278.8 569.0M230.5 519.7L282.9 569.6M238.1 521.4L290.9 570.8M241.9 522.2L294.8 571.5M245.6 523.1L298.6 572.1M249.3 523.9L302.4 572.7M252.9 524.7L306.1 573.3M260.0 526.3L313.5 574.4M263.5 527.1L317.0 575.0M266.9 527.8L320.6 575.5M270.3 528.6L324.1 576.1M273.7 529.4L327.5 576.6M280.3 530.9L334.3 577.7M283.6 531.6L337.6 578.2M286.8 532.3L340.9 578.7M290.0 533.0L344.1 579.2M293.1 533.7L347.3 579.7M299.3 535.1L353.6 580.7M302.3 535.8L356.7 581.2M305.4 536.5L359.7 581.7M308.3 537.1L362.7 582.2M311.3 537.8L365.7 582.6M159.1 505.5L316.6 540.5M161.2 507.9L319.1 542.5M163.3 510.3L321.6 544.5M165.5 512.8L324.1 546.6M167.7 515.3L326.7 548.7M169.9 517.8L329.3 550.8M172.2 520.4L331.9 553.0M174.5 523.0L334.5 555.1M176.8 525.6L337.2 557.3M181.6 531.0L342.6 561.8M184.0 533.7L345.4 564.0M186.5 536.5L348.2 566.3M189.0 539.4L351.0 568.6M191.6 542.2L353.8 571.0M194.1 545.2L356.7 573.3M196.8 548.1L359.7 575.7M199.4 551.1L362.6 578.2M202.2 554.2L365.6 580.6" stroke="#6684d2" stroke-width="0.7" opacity="0.62" fill="none"/>
  <path d="M157.0 503.2L204.9 557.3M184.9 509.4L234.8 562.0M210.6 515.2L262.0 566.3M234.4 520.5L286.9 570.2M256.4 525.5L309.8 573.8M277.0 530.1L330.9 577.2M296.2 534.4L350.5 580.2M314.2 538.5L368.6 583.1M157.0 503.2L314.2 538.5M179.2 528.3L339.9 559.5M204.9 557.3L368.6 583.1" stroke="#d6dcea" stroke-width="1.15" fill="none" stroke-linecap="square"/>
  <polygon points="262.0,566.3 368.6,583.1 437.7,639.8 330.8,634.7" fill="url(#pvGB)"/>
  <path d="M266.3 567.0L335.2 634.9M270.5 567.6L339.6 635.1M274.7 568.3L343.9 635.3M278.8 569.0L348.1 635.5M282.9 569.6L352.3 635.7M290.9 570.8L360.4 636.1M294.8 571.5L364.3 636.3M298.6 572.1L368.2 636.5M302.4 572.7L372.1 636.6M306.1 573.3L375.8 636.8M313.5 574.4L383.2 637.2M317.0 575.0L386.8 637.3M320.6 575.5L390.4 637.5M324.1 576.1L393.8 637.7M327.5 576.6L397.3 637.8M334.3 577.7L404.0 638.2M337.6 578.2L407.3 638.3M340.9 578.7L410.5 638.5M344.1 579.2L413.7 638.6M347.3 579.7L416.9 638.8M353.6 580.7L423.0 639.1M356.7 581.2L426.1 639.2M359.7 581.7L429.0 639.3M362.7 582.2L432.0 639.5M365.7 582.6L434.9 639.6M264.9 569.2L371.7 585.6M267.9 572.2L374.8 588.1M271.0 575.3L377.9 590.7M274.1 578.4L381.1 593.3M277.2 581.5L384.3 596.0M280.4 584.6L387.6 598.6M283.7 587.9L390.9 601.3M287.0 591.1L394.2 604.1M290.3 594.5L397.6 606.8M297.1 601.3L404.5 612.5M300.7 604.7L408.0 615.4M304.2 608.3L411.5 618.3M307.8 611.9L415.1 621.2M311.5 615.5L418.8 624.2M315.2 619.2L422.5 627.2M319.0 623.0L426.2 630.3M322.9 626.8L430.0 633.4M326.8 630.7L433.8 636.6" stroke="#6684d2" stroke-width="0.7" opacity="0.62" fill="none"/>
  <path d="M262.0 566.3L330.8 634.7M286.9 570.2L356.4 635.9M309.8 573.8L379.6 637.0M330.9 577.2L400.7 638.0M350.5 580.2L420.0 638.9M368.6 583.1L437.7 639.8M262.0 566.3L368.6 583.1M293.7 597.8L401.0 609.6M330.8 634.7L437.7 639.8" stroke="#d6dcea" stroke-width="1.15" fill="none" stroke-linecap="square"/>
  <polygon points="64.0,533.7 238.5,563.0 302.8,630.7 120.7,617.4" fill="url(#pvGA)"/>
  <path d="M71.3 534.9L128.5 618.0M78.4 536.1L136.2 618.5M85.5 537.3L143.7 619.1M92.4 538.5L151.1 619.6M99.2 539.6L158.4 620.2M112.4 541.8L172.4 621.2M118.9 542.9L179.3 621.7M125.3 544.0L186.0 622.2M131.5 545.0L192.6 622.6M137.7 546.1L199.0 623.1M149.7 548.1L211.6 624.0M155.6 549.1L217.7 624.5M161.4 550.1L223.7 624.9M167.1 551.0L229.7 625.4M172.7 551.9L235.5 625.8M183.6 553.8L246.8 626.6M189.0 554.7L252.3 627.0M194.3 555.6L257.7 627.4M199.5 556.4L263.1 627.8M204.6 557.3L268.3 628.2M214.6 559.0L278.6 628.9M219.5 559.8L283.6 629.3M224.4 560.6L288.5 629.7M229.2 561.4L293.3 630.0M233.9 562.2L298.1 630.4M66.5 537.3L241.4 566.0M69.0 541.0L244.3 569.1M71.5 544.8L247.3 572.2M74.1 548.6L250.2 575.4M76.7 552.4L253.3 578.5M79.3 556.3L256.3 581.7M82.0 560.3L259.4 585.0M84.7 564.3L262.5 588.3M87.5 568.4L265.7 591.6M93.1 576.7L272.1 598.3M96.0 581.0L275.3 601.8M99.0 585.3L278.6 605.2M101.9 589.7L282.0 608.8M104.9 594.1L285.3 612.3M108.0 598.6L288.7 615.9M111.1 603.2L292.2 619.5M114.2 607.9L295.7 623.2M117.4 612.6L299.2 626.9" stroke="#6684d2" stroke-width="0.7" opacity="0.62" fill="none"/>
  <path d="M64.0 533.7L120.7 617.4M105.9 540.7L165.5 620.7M143.8 547.1L205.4 623.6M178.2 552.9L241.2 626.2M209.7 558.2L273.5 628.6M238.5 563.0L302.8 630.7M64.0 533.7L238.5 563.0M90.3 572.5L268.8 594.9M120.7 617.4L302.8 630.7" stroke="#d6dcea" stroke-width="1.15" fill="none" stroke-linecap="square"/>
  <circle cx="87.1" cy="569.6" r="1.3" fill="#d4d8dc"/>
  <circle cx="91.1" cy="575.5" r="1.3" fill="#d4d8dc"/>
  <circle cx="117.2" cy="614.0" r="1.3" fill="#d4d8dc"/>
  <polygon points="117,632.2 300,643 410.8,647.6 449.2,651.5 447,655.6 410.8,654.8 300,652.4 117,640.4" fill="#1e1a18"/>
  <path d="M119,634.6L300,645.2L446,653" stroke="#5a4438" stroke-width="1.2" fill="none"/>
  <polygon points="113.6,643.4 117,640.2 300,652.2 410.8,654.6 447,655.6 441.5,657.6 410.8,657.3 300,656.2 113.6,647.4" fill="#8c6c52"/>
  <polygon points="113.6,642.6 117,640.2 200,645.7 200,647.3 117,643.8" fill="#4e5c66"/>
  <polygon points="103.8,648.3 113.6,647.2 300,656.2 410.8,657.3 441.5,657.6 410.8,661.5 119,661.5" fill="#35221a"/>
  <polygon points="102.2,630.1 112.6,643.6 102.2,647.8" fill="#f6f4f6"/>
  <path d="M148.6 636.5 C148.8 646 147 650 143.5 655 L140.5 661.5" stroke="#8c4c3a" stroke-width="3.6" fill="none"/>
  <path d="M147.6 636.5 C147.8 646 146 650 142.5 655 L139.5 661.5" stroke="#b06c54" stroke-width="1" fill="none"/>
  <rect x="145.4" y="633.6" width="6.4" height="4" rx="1" fill="#6c3a2c"/>
  <circle cx="313.1" cy="570.4" r="36.8" fill="none" stroke="#1e1e1e" stroke-width="1.4" stroke-dasharray="7.5 4.2" stroke-dashoffset="3"/>
</g>
<!--HOUSE_END-->

<!-- ================= BATTERY ================= -->
<g id="battery">
  <rect x="510.9" y="546.3" width="27.1" height="20.6" fill="url(#batG)"/>
  <rect x="512.5" y="546.3" width="1.6" height="20.6" fill="#c4c6ca"/>
  <rect x="534.6" y="546.3" width="1.6" height="20.6" fill="#c4c6ca"/>
  <rect x="516.6" y="541.3" width="2.6" height="2.9" rx="0.8" fill="#e8d21c"/>
  <rect x="521.0" y="541.3" width="2.6" height="2.9" rx="0.8" fill="#e8d21c"/>
  <rect x="525.3" y="541.3" width="2.6" height="2.9" rx="0.8" fill="#e8d21c"/>
  <rect x="529.7" y="541.3" width="2.6" height="2.9" rx="0.8" fill="#e8d21c"/>
  <rect x="512.1" y="540.6999999999999" width="1.2" height="3" fill="#9aa0a8"/><rect x="535.4" y="540.6999999999999" width="1.2" height="3" fill="#9aa0a8"/>
  <rect x="510.6" y="543.6" width="27.7" height="2.7" fill="#2f62b4"/>
  <rect x="539.4" y="546.3" width="26.9" height="20.6" fill="url(#batG)"/>
  <rect x="541.0" y="546.3" width="1.6" height="20.6" fill="#c4c6ca"/>
  <rect x="562.9" y="546.3" width="1.6" height="20.6" fill="#c4c6ca"/>
  <rect x="545.1" y="541.3" width="2.6" height="2.9" rx="0.8" fill="#e8d21c"/>
  <rect x="549.4" y="541.3" width="2.6" height="2.9" rx="0.8" fill="#e8d21c"/>
  <rect x="553.7" y="541.3" width="2.6" height="2.9" rx="0.8" fill="#e8d21c"/>
  <rect x="558.0" y="541.3" width="2.6" height="2.9" rx="0.8" fill="#e8d21c"/>
  <rect x="540.6" y="540.6999999999999" width="1.2" height="3" fill="#9aa0a8"/><rect x="563.7" y="540.6999999999999" width="1.2" height="3" fill="#9aa0a8"/>
  <rect x="539.1" y="543.6" width="27.5" height="2.7" fill="#2f62b4"/>
  <rect x="567.6" y="546.3" width="28.0" height="20.6" fill="url(#batG)"/>
  <rect x="569.2" y="546.3" width="1.6" height="20.6" fill="#c4c6ca"/>
  <rect x="592.2" y="546.3" width="1.6" height="20.6" fill="#c4c6ca"/>
  <rect x="573.3" y="541.3" width="2.6" height="2.9" rx="0.8" fill="#e8d21c"/>
  <rect x="578.0" y="541.3" width="2.6" height="2.9" rx="0.8" fill="#e8d21c"/>
  <rect x="582.6" y="541.3" width="2.6" height="2.9" rx="0.8" fill="#e8d21c"/>
  <rect x="587.3" y="541.3" width="2.6" height="2.9" rx="0.8" fill="#e8d21c"/>
  <rect x="568.8" y="540.6999999999999" width="1.2" height="3" fill="#9aa0a8"/><rect x="593.0" y="540.6999999999999" width="1.2" height="3" fill="#9aa0a8"/>
  <rect x="567.3" y="543.6" width="28.6" height="2.7" fill="#2f62b4"/>
  <rect x="510.9" y="572.4" width="27.1" height="20.0" fill="url(#batG)"/>
  <rect x="512.5" y="572.4" width="1.6" height="20.0" fill="#c4c6ca"/>
  <rect x="534.6" y="572.4" width="1.6" height="20.0" fill="#c4c6ca"/>
  <rect x="516.6" y="567.7" width="2.6" height="2.7" rx="0.8" fill="#e8d21c"/>
  <rect x="521.0" y="567.7" width="2.6" height="2.7" rx="0.8" fill="#e8d21c"/>
  <rect x="525.3" y="567.7" width="2.6" height="2.7" rx="0.8" fill="#e8d21c"/>
  <rect x="529.7" y="567.7" width="2.6" height="2.7" rx="0.8" fill="#e8d21c"/>
  <rect x="512.1" y="567.1" width="1.2" height="3" fill="#9aa0a8"/><rect x="535.4" y="567.1" width="1.2" height="3" fill="#9aa0a8"/>
  <rect x="510.6" y="569.8" width="27.7" height="2.6" fill="#2f62b4"/>
  <rect x="539.4" y="572.4" width="26.9" height="20.0" fill="url(#batG)"/>
  <rect x="541.0" y="572.4" width="1.6" height="20.0" fill="#c4c6ca"/>
  <rect x="562.9" y="572.4" width="1.6" height="20.0" fill="#c4c6ca"/>
  <rect x="545.1" y="567.7" width="2.6" height="2.7" rx="0.8" fill="#e8d21c"/>
  <rect x="549.4" y="567.7" width="2.6" height="2.7" rx="0.8" fill="#e8d21c"/>
  <rect x="553.7" y="567.7" width="2.6" height="2.7" rx="0.8" fill="#e8d21c"/>
  <rect x="558.0" y="567.7" width="2.6" height="2.7" rx="0.8" fill="#e8d21c"/>
  <rect x="540.6" y="567.1" width="1.2" height="3" fill="#9aa0a8"/><rect x="563.7" y="567.1" width="1.2" height="3" fill="#9aa0a8"/>
  <rect x="539.1" y="569.8" width="27.5" height="2.6" fill="#2f62b4"/>
  <rect x="567.6" y="572.4" width="28.0" height="20.0" fill="url(#batG)"/>
  <rect x="569.2" y="572.4" width="1.6" height="20.0" fill="#c4c6ca"/>
  <rect x="592.2" y="572.4" width="1.6" height="20.0" fill="#c4c6ca"/>
  <rect x="573.3" y="567.7" width="2.6" height="2.7" rx="0.8" fill="#e8d21c"/>
  <rect x="578.0" y="567.7" width="2.6" height="2.7" rx="0.8" fill="#e8d21c"/>
  <rect x="582.6" y="567.7" width="2.6" height="2.7" rx="0.8" fill="#e8d21c"/>
  <rect x="587.3" y="567.7" width="2.6" height="2.7" rx="0.8" fill="#e8d21c"/>
  <rect x="568.8" y="567.1" width="1.2" height="3" fill="#9aa0a8"/><rect x="593.0" y="567.1" width="1.2" height="3" fill="#9aa0a8"/>
  <rect x="567.3" y="569.8" width="28.6" height="2.6" fill="#2f62b4"/>
</g>

<!-- ================= GRID POLE ================= -->
<g id="pole">
  <polygon points="887.4,541.6 945.6,531.6 954.6,533.2 954.6,536.8 896.4,546.9 887.4,545.3" fill="#c2c6ca"/>
  <polygon points="887.4,541.6 945.6,531.6 954.6,533.2 896.4,543.3" fill="#eceef0"/>
  <polygon points="887.4,556.2 945.6,546.3 954.6,547.9 954.6,551.5 896.4,561.6 887.4,560" fill="#c2c6ca"/>
  <polygon points="887.4,556.2 945.6,546.3 954.6,547.9 896.4,558" fill="#eceef0"/>
  <rect x="943.8" y="529.6" width="1.8" height="4" fill="#b0b4b8"/><rect x="895" y="537.6" width="1.8" height="4" fill="#b0b4b8"/>
  <rect x="943.8" y="544.2" width="1.8" height="4" fill="#b0b4b8"/><rect x="895" y="552.2" width="1.8" height="4" fill="#b0b4b8"/>
  <path d="M916.2 519 Q916.2 516.4 921.5 516.4 Q926.8 516.4 926.8 519 V640.6 Q921.5 642.2 916.2 640.6 Z" fill="url(#poleG)"/>
  <path d="M896 540.6 C918 552 938 566 975.2 575 C995 579.6 1012 581.4 1031.5 582.4" stroke="#363636" stroke-width="1.1" fill="none"/>
  <path d="M946.4 533.2 C965 541.5 990 550 1039.5 554" stroke="#363636" stroke-width="1.1" fill="none"/>
</g>

<!-- ================= APPLIANCES ================= -->
<g id="appliances">
  <!-- fridge -->
  <polygon points="758.9,520.5 768.4,521.5 768.4,624 758.9,628.4" fill="#e6e6e8"/>
  <rect x="704.2" y="520.5" width="54.7" height="104.5" fill="url(#frG)"/>
  <rect x="707.8" y="624.4" width="54" height="4" fill="#141414"/>
  <path d="M726 520.5V624.5" stroke="#c4c4c8" stroke-width="0.9"/>
  <rect x="721.3" y="536.9" width="2.9" height="68.4" rx="1.2" fill="#a4a6aa"/>
  <rect x="727.4" y="536.9" width="2.9" height="68.4" rx="1.2" fill="#a4a6aa"/>
  <rect x="706.4" y="550.6" width="15.2" height="28.6" fill="#8e9094"/>
  <rect x="708" y="562" width="12" height="16" fill="#4a4c50"/>
  <rect x="710" y="553" width="9.6" height="6.4" fill="#c8cacc"/><rect x="711.6" y="554.4" width="6.4" height="3.6" fill="#46484c"/>
  <rect x="716" y="565" width="3" height="6" fill="#9a9ca0"/>
  <!-- stove -->
  <rect x="660.5" y="573" width="41" height="58" fill="#f2f2f2"/>
  <polygon points="660,569.7 699.6,569.7 701.5,573.4 660,573.4" fill="#1a1a1c"/>
  <rect x="660.5" y="573.4" width="41" height="0.9" fill="#9c9c9c"/>
  <rect x="662.5" y="586.9" width="39" height="24" fill="#141416"/>
  <rect x="665" y="590.5" width="34" height="17" fill="#242426"/>
  <rect x="664" y="588.4" width="36" height="1.3" rx="0.6" fill="#cfcfd2"/>
  <rect x="662.5" y="610.8" width="39" height="3.6" fill="#b4b4b8"/>
  <rect x="662.5" y="614.4" width="39" height="0.8" fill="#d8d8da"/>
  <path d="M662.5 627h39" stroke="#dadada" stroke-width="0.8"/>
  <g fill="#d0d0d2" stroke="#a8a8aa" stroke-width="0.3"><circle cx="666.6" cy="580.6" r="1.2"/><circle cx="671.6" cy="580.6" r="1.2"/><circle cx="676.6" cy="580.6" r="1.2"/><circle cx="693" cy="580.6" r="1.2"/><circle cx="698" cy="580.6" r="1.2"/></g>
  <rect x="682" y="578.8" width="7" height="3" fill="#2c2c2e"/>
  <!-- washer -->
  <polygon points="803.4,575 819.6,573.6 819.6,632.4 803.4,636.6" fill="#ececee"/>
  <polygon points="766.2,574.8 803.4,575 803.4,636.6 766.2,630.4" fill="#f5f5f6"/>
  <path d="M803.4 575V636.6" stroke="#dcdcde" stroke-width="0.7"/>
  <path d="M766.2 584.4L803.4 586" stroke="#e0e0e2" stroke-width="0.7"/>
  <rect x="788.4" y="578" width="7.6" height="2.8" fill="#26322a" transform="rotate(2 792 579)"/><rect x="790" y="578.8" width="3.4" height="1.2" fill="#3ec060" transform="rotate(2 792 579)"/>
  <circle cx="782.8" cy="580.6" r="2.2" fill="#cfcfd3" stroke="#9c9ca0" stroke-width="0.5"/>
  <ellipse cx="782.2" cy="605.3" rx="14" ry="15" fill="#c6c6ca"/>
  <ellipse cx="782.2" cy="605.3" rx="12.6" ry="13.6" fill="#eeeeef"/>
  <ellipse cx="782.4" cy="605.3" rx="11" ry="12" fill="#8c8c92"/>
  <ellipse cx="783.2" cy="605.1" rx="8.6" ry="9.8" fill="#3a3a40"/>
  <ellipse cx="784.6" cy="603.6" rx="5.6" ry="6.6" fill="#5c5c62"/>
  <path d="M772 611 a12 13 0 0 0 9 7.4" stroke="#f6f6f6" stroke-width="1.3" fill="none"/>
  <rect x="788" y="624" width="9" height="7" fill="none" stroke="#e0e0e2" stroke-width="0.6"/>
  <path d="M808 592 q8 10 0 36" stroke="#dededf" stroke-width="0.8" fill="none"/>
  <!-- microwave -->
  <polygon points="772.5,552.7 815.4,552.7 815.4,573.4 772.5,573.4" fill="#dcdcde"/>
  <rect x="772.5" y="552.7" width="42.9" height="1.2" fill="#f0f0f0"/>
  <rect x="773.9" y="554.6" width="27.4" height="17" rx="0.8" fill="#19191b"/>
  <rect x="776" y="556.8" width="21" height="12.6" fill="#2c2c2f"/>
  <rect x="797.4" y="556" width="1.4" height="14" fill="#88888c"/>
  <rect x="801.8" y="554.6" width="12.6" height="17" fill="#e8e8ea"/>
  <rect x="803.4" y="556" width="5" height="1.6" fill="#c0282a"/>
  <circle cx="808.2" cy="568.6" r="1.8" fill="#b4b4b8"/>
  <rect x="772.5" y="572.2" width="42.9" height="1.4" fill="#8a8a8e"/>
</g>

<!-- ================= ARROWS ================= -->
<g id="arrows">
  <path d="M447.2 354.1L517.9 354.7" stroke="#f2640f" stroke-width="1.45" fill="none"/>
  <polygon points="435.7,354.0 448.2,358.4 448.2,349.8" fill="#f2640f"/>
  <polygon points="529.4,354.8 516.9,359.0 516.9,350.4" fill="#f2640f"/>
  <path d="M693.6 345.8L751.5 345.8" stroke="#da161e" stroke-width="1.45" fill="none"/>
  <polygon points="682.1,345.8 694.6,350.1 694.6,341.5" fill="#da161e"/>
  <polygon points="763.0,345.8 750.5,350.1 750.5,341.5" fill="#da161e"/>
  <path d="M392.5 413.4L329.3 537.0" stroke="#f2640f" stroke-width="1.45" fill="none"/>
  <polygon points="397.7,403.2 388.2,412.4 395.8,416.3" fill="#f2640f"/>
  <path d="M405.9 411.7L508.9 535.6" stroke="#f2640f" stroke-width="1.45" fill="none"/>
  <polygon points="398.5,402.9 403.2,415.3 409.8,409.8" fill="#f2640f"/>
  <polygon points="516.3,544.4 505.0,537.5 511.6,532.0" fill="#f2640f"/>
  <path d="M643.6 430.0L691.8 506.7" stroke="#da161e" stroke-width="1.45" fill="none"/>
  <polygon points="697.9,516.4 687.6,508.1 694.9,503.5" fill="#da161e"/>
  <path d="M819.2 402.2L908.0 511.3" stroke="#da161e" stroke-width="1.45" fill="none"/>
  <polygon points="811.9,393.3 816.5,405.7 823.1,400.3" fill="#da161e"/>
  <polygon points="915.3,520.2 904.1,513.2 910.7,507.8" fill="#da161e"/>
</g>

<!-- ================= HYBRID INVERTER ================= -->
<g id="inverter">
  <rect x="596.5" y="404" width="58.2" height="9.2" fill="#ececec" stroke="#d4d4d4" stroke-width="0.6"/>
  <g fill="#141414">
    <circle cx="602.9" cy="416" r="3.1"/><circle cx="611" cy="416" r="3.1"/><circle cx="620.3" cy="416" r="3.1"/>
    <circle cx="630.5" cy="416" r="3.1"/><circle cx="639.2" cy="416" r="3.1"/><circle cx="648" cy="416" r="3.1"/>
  </g>
  <g fill="#666">
    <circle cx="602.9" cy="416" r="1"/><circle cx="611" cy="416" r="1"/><circle cx="620.3" cy="416" r="1"/>
    <circle cx="630.5" cy="416" r="1"/><circle cx="639.2" cy="416" r="1"/><circle cx="648" cy="416" r="1"/>
  </g>
  <rect x="548.2" y="293.8" width="116.3" height="115.4" rx="4" fill="url(#invG)"/>
  <rect x="549.5" y="295" width="113.6" height="111" rx="3" fill="#f8f8f8"/>
  <rect x="558" y="404.6" width="38" height="1.2" fill="#d0d0d0"/>
  <rect x="546" y="385.2" width="3.4" height="3" fill="#333"/>
  <g fill="#222">
    <circle cx="551.2" cy="305.6" r="0.9"/><circle cx="662.4" cy="305.6" r="0.9"/>
    <circle cx="551.2" cy="351.4" r="0.9"/><circle cx="662.4" cy="351.4" r="0.9"/>
    <circle cx="551.2" cy="397" r="0.9"/><circle cx="662.4" cy="397" r="0.9"/>
    <circle cx="606.7" cy="296.3" r="0.9"/><circle cx="606.7" cy="403.2" r="0.9"/>
  </g>
  <rect x="567.4" y="304.9" width="32.6" height="35.8" rx="4.5" fill="#f47b12"/>
  <rect x="569.3" y="306.8" width="28.8" height="32" rx="3" fill="#101010"/>
  <rect x="576.5" y="318.5" width="13.5" height="7.5" fill="#4a3a38"/>
  <g fill="#3c5a50"><circle cx="575.8" cy="333.3" r="1.2"/><circle cx="581" cy="333.3" r="1.2"/><circle cx="586.2" cy="333.3" r="1.2"/><circle cx="591.4" cy="333.3" r="1.2"/></g>
  <g fill="#444"><circle cx="576" cy="312.5" r="0.5"/><circle cx="581" cy="312.5" r="0.5"/><circle cx="586" cy="312.5" r="0.5"/><circle cx="591" cy="312.5" r="0.5"/></g>
  <text transform="translate(626.6,317) scale(1.12,1)" style="font-size:12.5px;font-weight:bold;fill:#16297e;stroke:#16297e;stroke-width:0.7px;letter-spacing:-0.2px">invt</text>
  <circle cx="628.7" cy="308.5" r="1.5" fill="#e8202a"/>
</g>

<!-- ================= AC METER ================= -->
<g id="meter">
  <polygon points="838,308 848,309.5 848,378 838,381.5" fill="#dfe1e4"/>
  <polygon points="789,307.6 841.4,307.6 843.6,311.2 785.6,311.2" fill="#2c2c2c"/>
  <rect x="777.4" y="310.8" width="60.6" height="22" rx="1.5" fill="#e8e9eb"/>
  <rect x="777.4" y="367.5" width="60.6" height="14" rx="1.5" fill="#e4e5e8"/>
  <rect x="787" y="313" width="18" height="19" rx="2" fill="#f0f1f2" stroke="#d6d7da" stroke-width="0.6"/>
  <rect x="811" y="313" width="18" height="19" rx="2" fill="#f0f1f2" stroke="#d6d7da" stroke-width="0.6"/>
  <rect x="792" y="323" width="7.2" height="5.4" fill="#f08a28"/><path d="M795.6 323v5.4" stroke="#fbd9b0" stroke-width="0.7"/>
  <rect x="816" y="323" width="7.4" height="5.4" fill="#f08a28"/><path d="M819.7 323v5.4" stroke="#fbd9b0" stroke-width="0.7"/>
  <rect x="791" y="368.6" width="8" height="4" fill="#f08a28"/><path d="M795 368.6v4" stroke="#fbd9b0" stroke-width="0.7"/>
  <rect x="815.4" y="369.4" width="7.8" height="3.6" fill="#f08a28"/><path d="M819.3 369.4v3.6" stroke="#fbd9b0" stroke-width="0.7"/>
  <circle cx="792" cy="375.6" r="1.6" fill="#b8bcc2"/><circle cx="814" cy="376" r="1.6" fill="#b8bcc2"/><circle cx="826" cy="376" r="1.6" fill="#b8bcc2"/>
  <rect x="801.5" y="373" width="7" height="8.5" rx="1" fill="#d4d6da"/>
  <rect x="774" y="331.6" width="64" height="36.4" rx="1.2" fill="#e6e2d4"/>
  <rect x="774" y="331.6" width="64" height="1" fill="#f4f2ea"/>
  <rect x="777.5" y="334.6" width="5.5" height="2.4" fill="#1f58c0"/>
  <path d="M785 335.9h36" stroke="#555" stroke-width="1"/>
  <rect x="782" y="339.8" width="41.6" height="17" rx="1.8" fill="url(#lcdG)" stroke="#2a2a2a" stroke-width="0.9"/>
  <text transform="translate(804,353.4) scale(0.8,1)" style="font-family:'Liberation Mono',monospace;font-size:12.5px;font-weight:bold;fill:#fff;letter-spacing:-0.6px">000</text>
  <path d="M824.5 342.5h4M824.5 346h4M824.5 349.5h4M824.5 353h4" stroke="#222" stroke-width="1.2"/>
  <path d="M778.3 341v2.2M778.3 345.5v2.2M778.3 350v2.2" stroke="#333" stroke-width="1.2"/>
  <path d="M782 359.2h12M804 359.2h14" stroke="#666" stroke-width="0.7"/>
  <g fill="#f0821e"><circle cx="797.4" cy="362.7" r="2.5"/><circle cx="804.4" cy="362.7" r="2.5"/><circle cx="811.4" cy="362.7" r="2.5"/><circle cx="818.4" cy="362.7" r="2.5"/></g>
</g>

<!-- ================= TEXT LABELS ================= -->
<g id="labels">
  <text class="c" transform="translate(248,142) scale(1.04,1)">Solar Energy</text>
  <text class="c" transform="translate(248,160) scale(1.04,1)">Management Server</text>
  <text class="c" transform="translate(423.5,141) scale(1.04,1)">4G/5G Base</text>
  <text class="c" transform="translate(423.5,159) scale(1.04,1)">Station</text>
  <text transform="translate(639.5,112) scale(1.04,1)">H8922S</text>
  <text transform="translate(627.5,241) scale(1.04,1)">Data Collector</text>
  <text transform="translate(72.5,298.5) scale(1.04,1)">Data Line</text>
  <text transform="translate(75,341.5) scale(1.04,1)">AC Line</text>
  <text transform="translate(72.5,385) scale(1.04,1)">DC Line</text>
  <text class="c" transform="translate(337.8,412) scale(1.04,1)">Solar</text>
  <text class="c" transform="translate(337.8,429) scale(1.04,1)">controller</text>
  <text class="c" transform="translate(563,439) scale(1.04,1)">Hybrid-connected</text>
  <text class="c" transform="translate(563,457) scale(1.04,1)">inverter</text>
  <text class="c" transform="translate(880,403) scale(1.04,1)">AC Electric</text>
  <text class="c" transform="translate(880,421) scale(1.04,1)">Meter</text>
  <text class="c" transform="translate(552,618.5) scale(1.04,1)">Battery</text>
  <text class="c" transform="translate(745,661.5) scale(1.04,1)">Appliances</text>
  <text class="c" transform="translate(924,665) scale(1.04,1)">Grid</text>
  <text class="c" transform="translate(187,687.5) scale(1.04,1)">Photovoltaic Panels</text>
</g>
</svg>
</body>
</html>
